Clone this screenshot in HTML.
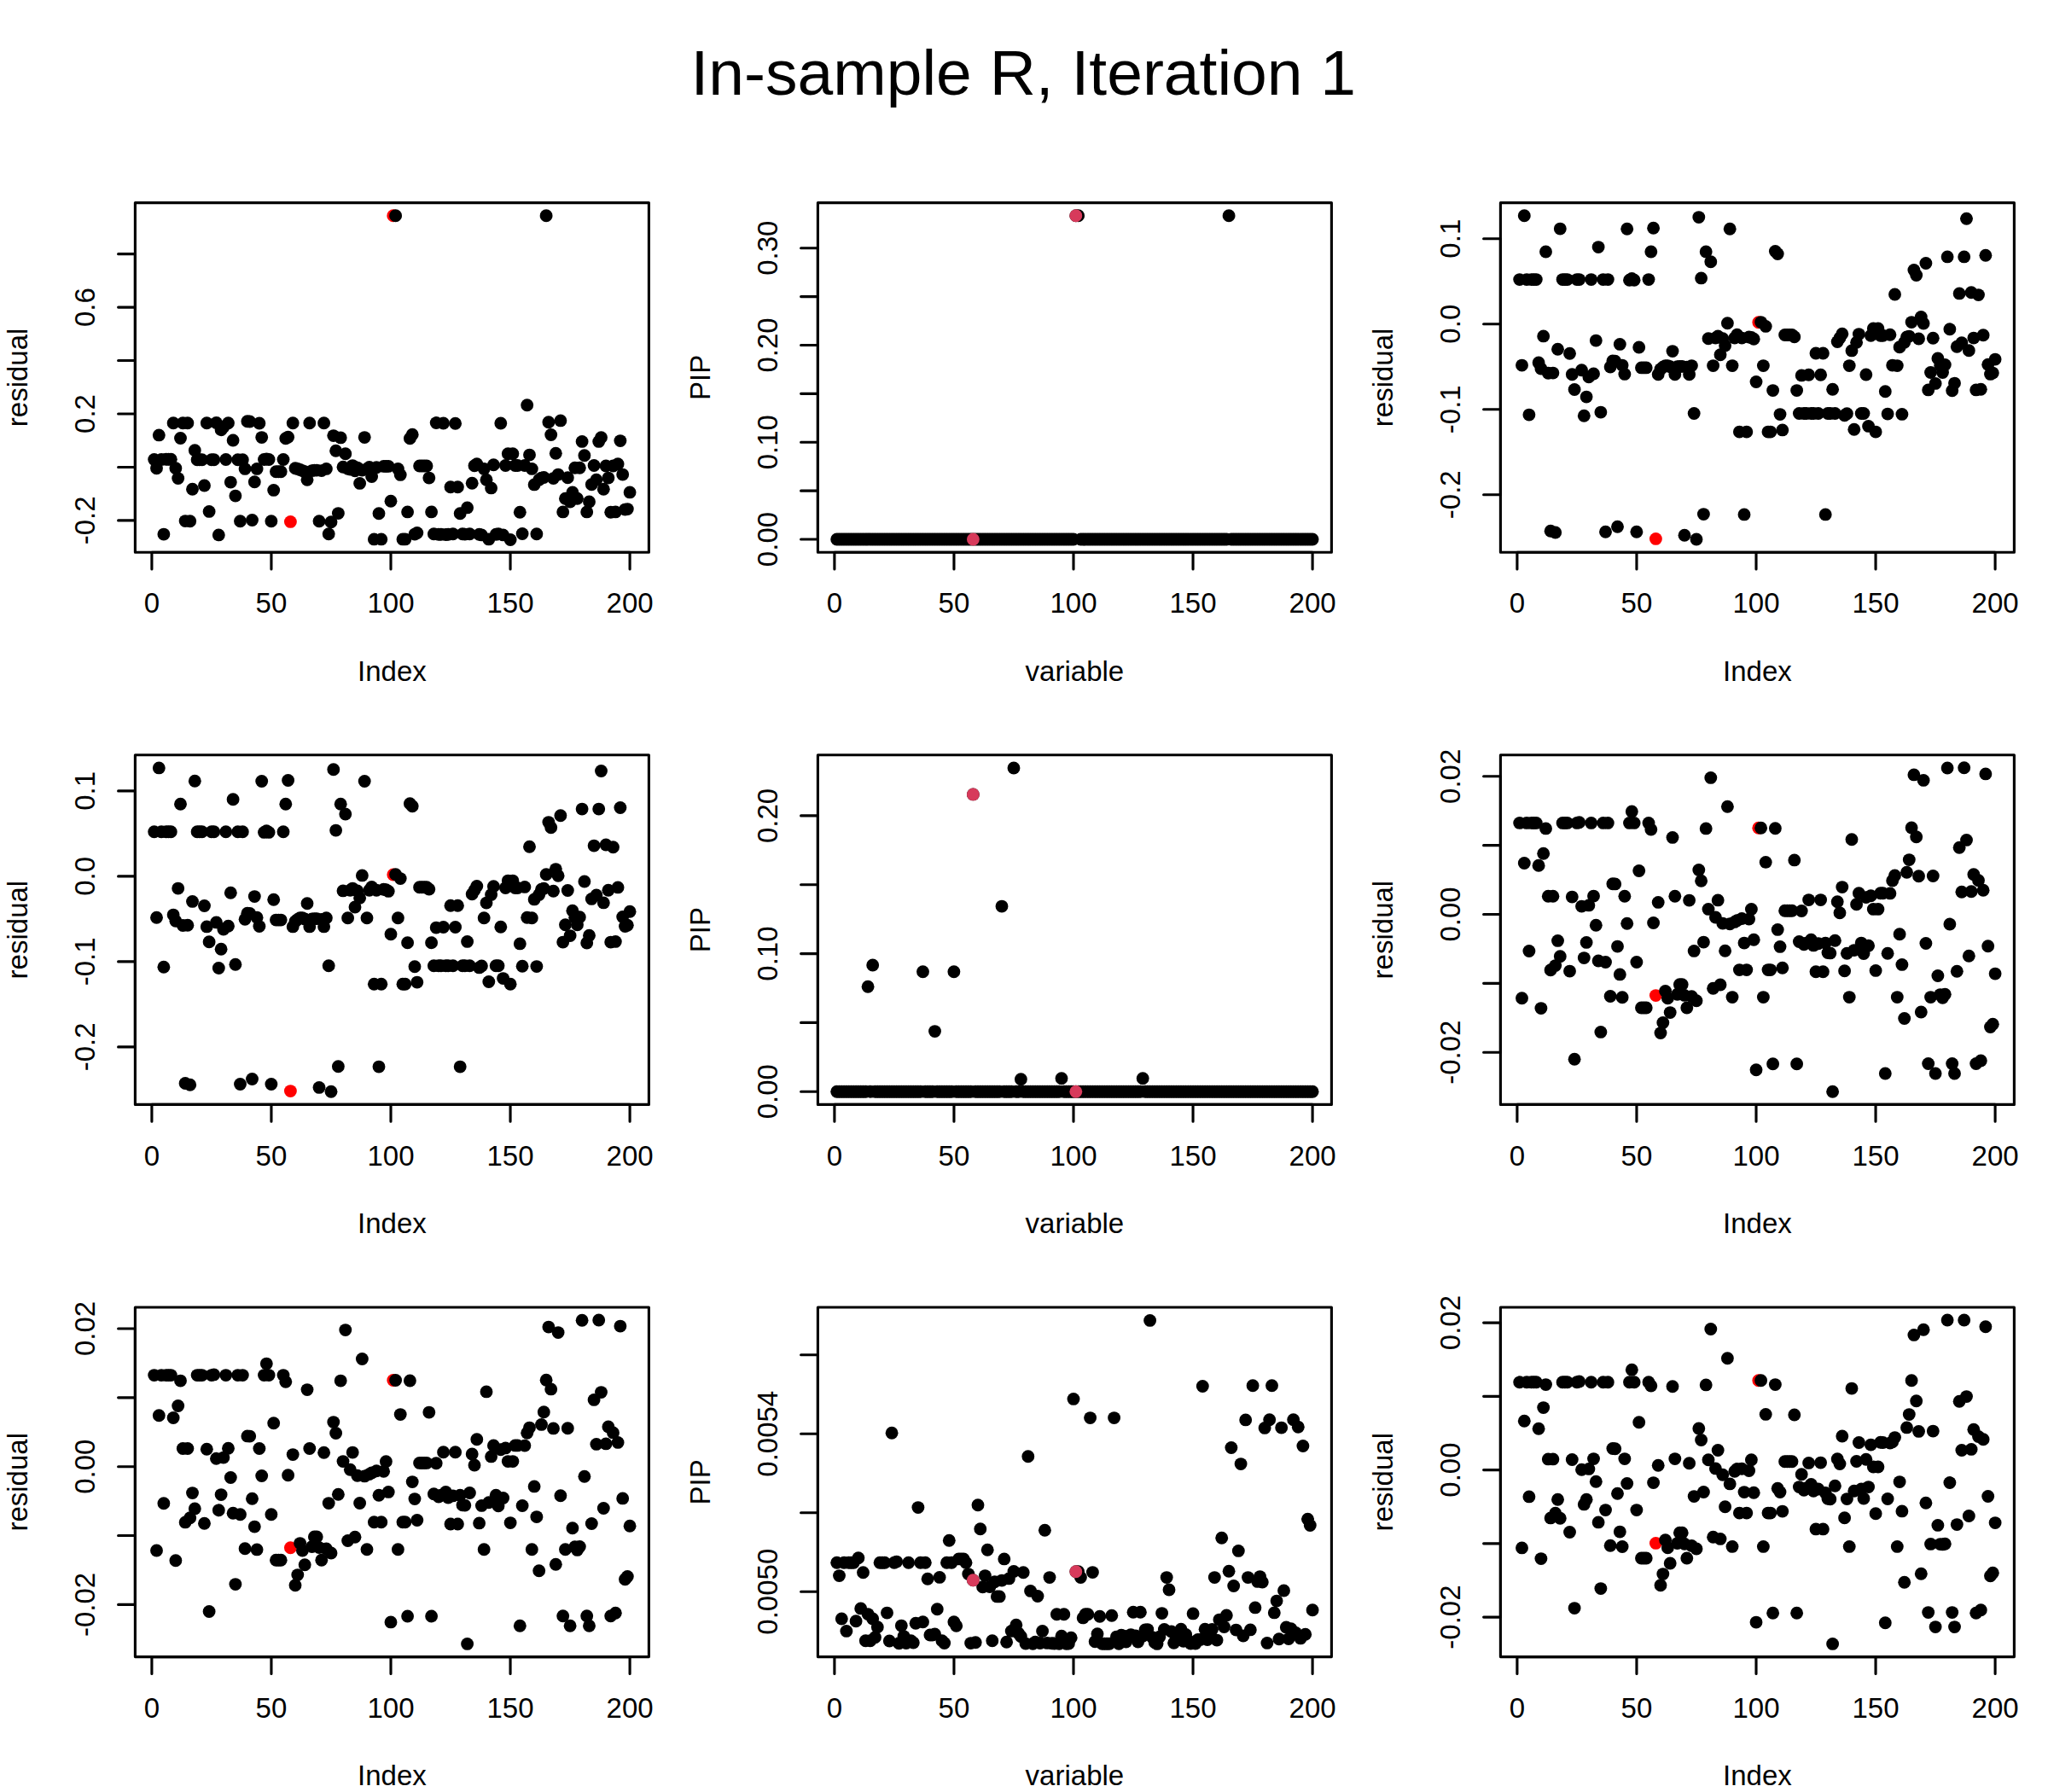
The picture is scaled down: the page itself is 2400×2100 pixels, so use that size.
<!DOCTYPE html>
<html><head><meta charset="utf-8"><title>In-sample R, Iteration 1</title>
<style>
html,body{margin:0;padding:0;background:#fff}
svg{display:block}
text{font-family:"Liberation Sans",sans-serif;fill:#000}
.a{font-size:33px}
.l{stroke:#000;stroke-width:3.125;stroke-linecap:round;stroke-linejoin:round;fill:none}
</style></head><body>
<svg width="2400" height="2100" viewBox="0 0 2400 2100">
<rect width="2400" height="2100" fill="#fff"/>
<text x="1199.3" y="111.2" font-size="75.0" text-anchor="middle">In-sample R, Iteration 1</text>
<g>
<g class="k"><circle r="7.43" cx="180.7" cy="538.5"/><circle r="7.43" cx="183.5" cy="548.8"/><circle r="7.43" cx="186.3" cy="509.9"/><circle r="7.43" cx="189.1" cy="538.5"/><circle r="7.43" cx="191.9" cy="626.1"/><circle r="7.43" cx="194.7" cy="538.2"/><circle r="7.43" cx="197.5" cy="538.2"/><circle r="7.43" cx="200.3" cy="538.2"/><circle r="7.43" cx="203.1" cy="495.8"/><circle r="7.43" cx="205.9" cy="548.8"/><circle r="7.43" cx="208.7" cy="560.6"/><circle r="7.43" cx="211.5" cy="513.5"/><circle r="7.43" cx="214.3" cy="495.8"/><circle r="7.43" cx="217.1" cy="610.6"/><circle r="7.43" cx="219.9" cy="495.8"/><circle r="7.43" cx="222.7" cy="610.8"/><circle r="7.43" cx="225.5" cy="573.2"/><circle r="7.43" cx="228.3" cy="527.7"/><circle r="7.43" cx="231.1" cy="538.7"/><circle r="7.43" cx="233.9" cy="538.7"/><circle r="7.43" cx="236.7" cy="538.7"/><circle r="7.43" cx="239.5" cy="569"/><circle r="7.43" cx="242.3" cy="495.8"/><circle r="7.43" cx="245.1" cy="599.4"/><circle r="7.43" cx="247.9" cy="538.7"/><circle r="7.43" cx="250.7" cy="538.7"/><circle r="7.43" cx="253.5" cy="495.5"/><circle r="7.43" cx="256.3" cy="626.9"/><circle r="7.43" cx="259.1" cy="503.7"/><circle r="7.43" cx="261.9" cy="500.4"/><circle r="7.43" cx="264.7" cy="538.5"/><circle r="7.43" cx="267.5" cy="495.8"/><circle r="7.43" cx="270.3" cy="565.1"/><circle r="7.43" cx="273.1" cy="516"/><circle r="7.43" cx="275.9" cy="581.1"/><circle r="7.43" cx="278.7" cy="538.7"/><circle r="7.43" cx="281.5" cy="610.8"/><circle r="7.43" cx="284.3" cy="538.7"/><circle r="7.43" cx="287.1" cy="549.4"/><circle r="7.43" cx="289.9" cy="493.8"/><circle r="7.43" cx="292.7" cy="494"/><circle r="7.43" cx="295.5" cy="609.5"/><circle r="7.43" cx="298.3" cy="564.8"/><circle r="7.43" cx="301.1" cy="549.4"/><circle r="7.43" cx="303.9" cy="496"/><circle r="7.43" cx="306.7" cy="512.6"/><circle r="7.43" cx="309.5" cy="538.5"/><circle r="7.43" cx="312.3" cy="537.9"/><circle r="7.43" cx="315.1" cy="538.5"/><circle r="7.43" cx="317.9" cy="610.8"/><circle r="7.43" cx="320.7" cy="574.4"/><circle r="7.43" cx="323.5" cy="552.8"/><circle r="7.43" cx="326.4" cy="552.8"/><circle r="7.43" cx="329.2" cy="552.8"/><circle r="7.43" cx="332" cy="538.5"/><circle r="7.43" cx="334.8" cy="513.7"/><circle r="7.43" cx="337.6" cy="512.3"/><circle r="7.43" cx="340.4" cy="611.4" fill="#ff0000"/><circle r="7.43" cx="343.2" cy="495.8"/><circle r="7.43" cx="346" cy="548.8"/><circle r="7.43" cx="348.8" cy="549.4"/><circle r="7.43" cx="351.6" cy="550.5"/><circle r="7.43" cx="354.4" cy="551.6"/><circle r="7.43" cx="357.2" cy="552.8"/><circle r="7.43" cx="360" cy="562.3"/><circle r="7.43" cx="362.8" cy="495.8"/><circle r="7.43" cx="365.6" cy="551.6"/><circle r="7.43" cx="368.4" cy="551.1"/><circle r="7.43" cx="371.2" cy="551.1"/><circle r="7.43" cx="374" cy="610.8"/><circle r="7.43" cx="376.8" cy="551.6"/><circle r="7.43" cx="379.6" cy="495.8"/><circle r="7.43" cx="382.4" cy="549.4"/><circle r="7.43" cx="385.2" cy="625.8"/><circle r="7.43" cx="388" cy="611.7"/><circle r="7.43" cx="390.8" cy="510.6"/><circle r="7.43" cx="393.6" cy="528.3"/><circle r="7.43" cx="396.4" cy="601.6"/><circle r="7.43" cx="399.2" cy="512.9"/><circle r="7.43" cx="402" cy="547.2"/><circle r="7.43" cx="404.8" cy="531.8"/><circle r="7.43" cx="407.6" cy="549.2"/><circle r="7.43" cx="410.4" cy="550.1"/><circle r="7.43" cx="413.2" cy="545.6"/><circle r="7.43" cx="416" cy="551.8"/><circle r="7.43" cx="418.8" cy="548.1"/><circle r="7.43" cx="421.6" cy="566.4"/><circle r="7.43" cx="424.4" cy="551"/><circle r="7.43" cx="427.2" cy="512.6"/><circle r="7.43" cx="430" cy="549.8"/><circle r="7.43" cx="432.8" cy="547.5"/><circle r="7.43" cx="435.6" cy="558.5"/><circle r="7.43" cx="438.4" cy="631.9"/><circle r="7.43" cx="441.2" cy="547.8"/><circle r="7.43" cx="444" cy="601.8"/><circle r="7.43" cx="446.8" cy="631.9"/><circle r="7.43" cx="449.6" cy="546.4"/><circle r="7.43" cx="452.4" cy="546.4"/><circle r="7.43" cx="455.2" cy="546.4"/><circle r="7.43" cx="458" cy="587.2"/><circle r="7.43" cx="460.8" cy="252.8" fill="#ff0000"/><circle r="7.43" cx="463.6" cy="252.8"/><circle r="7.43" cx="466.4" cy="549.5"/><circle r="7.43" cx="469.2" cy="556.4"/><circle r="7.43" cx="472" cy="631.9"/><circle r="7.43" cx="474.8" cy="631.9"/><circle r="7.43" cx="477.6" cy="599.9"/><circle r="7.43" cx="480.4" cy="513.7"/><circle r="7.43" cx="483.2" cy="509.3"/><circle r="7.43" cx="486" cy="626.1"/><circle r="7.43" cx="488.8" cy="624.4"/><circle r="7.43" cx="491.6" cy="546"/><circle r="7.43" cx="494.4" cy="546"/><circle r="7.43" cx="497.2" cy="546"/><circle r="7.43" cx="500" cy="546"/><circle r="7.43" cx="502.8" cy="560.1"/><circle r="7.43" cx="505.6" cy="599.9"/><circle r="7.43" cx="508.4" cy="625.8"/><circle r="7.43" cx="511.2" cy="495.5"/><circle r="7.43" cx="514" cy="626.3"/><circle r="7.43" cx="516.8" cy="626.3"/><circle r="7.43" cx="519.6" cy="496"/><circle r="7.43" cx="522.4" cy="626.5"/><circle r="7.43" cx="525.2" cy="626.3"/><circle r="7.43" cx="528" cy="570.7"/><circle r="7.43" cx="530.8" cy="625.8"/><circle r="7.43" cx="533.6" cy="496.3"/><circle r="7.43" cx="536.4" cy="570.7"/><circle r="7.43" cx="539.2" cy="601.8"/><circle r="7.43" cx="542" cy="625.8"/><circle r="7.43" cx="544.8" cy="626.1"/><circle r="7.43" cx="547.6" cy="594.9"/><circle r="7.43" cx="550.4" cy="625.8"/><circle r="7.43" cx="553.2" cy="566.2"/><circle r="7.43" cx="556" cy="545.7"/><circle r="7.43" cx="558.8" cy="543.8"/><circle r="7.43" cx="561.6" cy="626.3"/><circle r="7.43" cx="564.4" cy="626.9"/><circle r="7.43" cx="567.2" cy="549.4"/><circle r="7.43" cx="570" cy="562.3"/><circle r="7.43" cx="572.8" cy="631.9"/><circle r="7.43" cx="575.6" cy="571.9"/><circle r="7.43" cx="578.4" cy="544.7"/><circle r="7.43" cx="581.2" cy="626.3"/><circle r="7.43" cx="584" cy="625.8"/><circle r="7.43" cx="586.8" cy="496"/><circle r="7.43" cx="589.6" cy="626.9"/><circle r="7.43" cx="592.4" cy="545.5"/><circle r="7.43" cx="595.3" cy="531.8"/><circle r="7.43" cx="598.1" cy="632.5"/><circle r="7.43" cx="600.9" cy="531.8"/><circle r="7.43" cx="603.7" cy="545.5"/><circle r="7.43" cx="606.5" cy="545.5"/><circle r="7.43" cx="609.3" cy="600.2"/><circle r="7.43" cx="612.1" cy="625.5"/><circle r="7.43" cx="614.9" cy="545.5"/><circle r="7.43" cx="617.7" cy="474.7"/><circle r="7.43" cx="620.5" cy="533.1"/><circle r="7.43" cx="623.3" cy="549.4"/><circle r="7.43" cx="626.1" cy="567.9"/><circle r="7.43" cx="628.9" cy="625.8"/><circle r="7.43" cx="631.7" cy="562.3"/><circle r="7.43" cx="634.5" cy="560.1"/><circle r="7.43" cx="637.3" cy="559.5"/><circle r="7.43" cx="640.1" cy="252.8"/><circle r="7.43" cx="642.9" cy="494.7"/><circle r="7.43" cx="645.7" cy="509.5"/><circle r="7.43" cx="648.5" cy="560.6"/><circle r="7.43" cx="651.3" cy="531.2"/><circle r="7.43" cx="654.1" cy="556.1"/><circle r="7.43" cx="656.9" cy="492.9"/><circle r="7.43" cx="659.7" cy="599.9"/><circle r="7.43" cx="662.5" cy="584.2"/><circle r="7.43" cx="665.3" cy="559.8"/><circle r="7.43" cx="668.1" cy="588.1"/><circle r="7.43" cx="670.9" cy="576.9"/><circle r="7.43" cx="673.7" cy="548.3"/><circle r="7.43" cx="676.5" cy="584.2"/><circle r="7.43" cx="679.3" cy="548.3"/><circle r="7.43" cx="682.1" cy="517.4"/><circle r="7.43" cx="684.9" cy="533.7"/><circle r="7.43" cx="687.7" cy="599.9"/><circle r="7.43" cx="690.5" cy="587.9"/><circle r="7.43" cx="693.3" cy="567.7"/><circle r="7.43" cx="696.1" cy="545.5"/><circle r="7.43" cx="698.9" cy="562.3"/><circle r="7.43" cx="701.7" cy="517.4"/><circle r="7.43" cx="704.5" cy="512.7"/><circle r="7.43" cx="707.3" cy="573.3"/><circle r="7.43" cx="710.1" cy="546"/><circle r="7.43" cx="712.9" cy="560.1"/><circle r="7.43" cx="715.7" cy="600.2"/><circle r="7.43" cx="718.5" cy="546"/><circle r="7.43" cx="721.3" cy="599.9"/><circle r="7.43" cx="724.1" cy="543.8"/><circle r="7.43" cx="726.9" cy="516.6"/><circle r="7.43" cx="729.7" cy="556.1"/><circle r="7.43" cx="732.5" cy="597.1"/><circle r="7.43" cx="735.3" cy="596.6"/><circle r="7.43" cx="738.1" cy="576.9"/></g>
<rect class="l" x="158.40" y="237.60" width="602.00" height="409.60"/>
<path class="l" d="M177.90 647.20H738.10M177.90 647.20v19.80M317.95 647.20v19.80M458.00 647.20v19.80M598.05 647.20v19.80M738.10 647.20v19.80"/>
<text class="a" x="177.90" y="718.48" text-anchor="middle">0</text>
<text class="a" x="317.95" y="718.48" text-anchor="middle">50</text>
<text class="a" x="458.00" y="718.48" text-anchor="middle">100</text>
<text class="a" x="598.05" y="718.48" text-anchor="middle">150</text>
<text class="a" x="738.10" y="718.48" text-anchor="middle">200</text>
<text class="a" x="459.40" y="797.68" text-anchor="middle">Index</text>
<path class="l" d="M158.40 609.90V297.65M158.40 609.90h-19.80M158.40 547.45h-19.80M158.40 485.00h-19.80M158.40 422.55h-19.80M158.40 360.10h-19.80M158.40 297.65h-19.80"/>
<text class="a" transform="translate(110.88 609.90) rotate(-90)" text-anchor="middle">-0.2</text>
<text class="a" transform="translate(110.88 485.00) rotate(-90)" text-anchor="middle">0.2</text>
<text class="a" transform="translate(110.88 360.10) rotate(-90)" text-anchor="middle">0.6</text>
<text class="a" transform="translate(31.68 442.40) rotate(-90)" text-anchor="middle">residual</text>
</g>
<g>
<g class="k"><circle r="7.43" cx="980.7" cy="632"/><circle r="7.43" cx="983.5" cy="632"/><circle r="7.43" cx="986.3" cy="632"/><circle r="7.43" cx="989.1" cy="632"/><circle r="7.43" cx="991.9" cy="632"/><circle r="7.43" cx="994.7" cy="632"/><circle r="7.43" cx="997.5" cy="632"/><circle r="7.43" cx="1000.3" cy="632"/><circle r="7.43" cx="1003.1" cy="632"/><circle r="7.43" cx="1005.9" cy="632"/><circle r="7.43" cx="1008.7" cy="632"/><circle r="7.43" cx="1011.5" cy="632"/><circle r="7.43" cx="1014.3" cy="632"/><circle r="7.43" cx="1017.1" cy="632"/><circle r="7.43" cx="1019.9" cy="632"/><circle r="7.43" cx="1022.7" cy="632"/><circle r="7.43" cx="1025.5" cy="632"/><circle r="7.43" cx="1028.3" cy="632"/><circle r="7.43" cx="1031.1" cy="632"/><circle r="7.43" cx="1033.9" cy="632"/><circle r="7.43" cx="1036.7" cy="632"/><circle r="7.43" cx="1039.5" cy="632"/><circle r="7.43" cx="1042.3" cy="632"/><circle r="7.43" cx="1045.1" cy="632"/><circle r="7.43" cx="1047.9" cy="632"/><circle r="7.43" cx="1050.7" cy="632"/><circle r="7.43" cx="1053.5" cy="632"/><circle r="7.43" cx="1056.3" cy="632"/><circle r="7.43" cx="1059.1" cy="632"/><circle r="7.43" cx="1061.9" cy="632"/><circle r="7.43" cx="1064.7" cy="632"/><circle r="7.43" cx="1067.5" cy="632"/><circle r="7.43" cx="1070.3" cy="632"/><circle r="7.43" cx="1073.1" cy="632"/><circle r="7.43" cx="1075.9" cy="632"/><circle r="7.43" cx="1078.7" cy="632"/><circle r="7.43" cx="1081.5" cy="632"/><circle r="7.43" cx="1084.3" cy="632"/><circle r="7.43" cx="1087.1" cy="632"/><circle r="7.43" cx="1089.9" cy="632"/><circle r="7.43" cx="1092.7" cy="632"/><circle r="7.43" cx="1095.5" cy="632"/><circle r="7.43" cx="1098.3" cy="632"/><circle r="7.43" cx="1101.1" cy="632"/><circle r="7.43" cx="1103.9" cy="632"/><circle r="7.43" cx="1106.7" cy="632"/><circle r="7.43" cx="1109.5" cy="632"/><circle r="7.43" cx="1112.3" cy="632"/><circle r="7.43" cx="1115.1" cy="632"/><circle r="7.43" cx="1117.9" cy="632"/><circle r="7.43" cx="1120.7" cy="632"/><circle r="7.43" cx="1123.5" cy="632"/><circle r="7.43" cx="1126.4" cy="632"/><circle r="7.43" cx="1129.2" cy="632"/><circle r="7.43" cx="1132" cy="632"/><circle r="7.43" cx="1134.8" cy="632"/><circle r="7.43" cx="1137.6" cy="632"/><circle r="7.43" cx="1140.4" cy="632"/><circle r="7.43" cx="1143.2" cy="632"/><circle r="7.43" cx="1146" cy="632"/><circle r="7.43" cx="1148.8" cy="632"/><circle r="7.43" cx="1151.6" cy="632"/><circle r="7.43" cx="1154.4" cy="632"/><circle r="7.43" cx="1157.2" cy="632"/><circle r="7.43" cx="1160" cy="632"/><circle r="7.43" cx="1162.8" cy="632"/><circle r="7.43" cx="1165.6" cy="632"/><circle r="7.43" cx="1168.4" cy="632"/><circle r="7.43" cx="1171.2" cy="632"/><circle r="7.43" cx="1174" cy="632"/><circle r="7.43" cx="1176.8" cy="632"/><circle r="7.43" cx="1179.6" cy="632"/><circle r="7.43" cx="1182.4" cy="632"/><circle r="7.43" cx="1185.2" cy="632"/><circle r="7.43" cx="1188" cy="632"/><circle r="7.43" cx="1190.8" cy="632"/><circle r="7.43" cx="1193.6" cy="632"/><circle r="7.43" cx="1196.4" cy="632"/><circle r="7.43" cx="1199.2" cy="632"/><circle r="7.43" cx="1202" cy="632"/><circle r="7.43" cx="1204.8" cy="632"/><circle r="7.43" cx="1207.6" cy="632"/><circle r="7.43" cx="1210.4" cy="632"/><circle r="7.43" cx="1213.2" cy="632"/><circle r="7.43" cx="1216" cy="632"/><circle r="7.43" cx="1218.8" cy="632"/><circle r="7.43" cx="1221.6" cy="632"/><circle r="7.43" cx="1224.4" cy="632"/><circle r="7.43" cx="1227.2" cy="632"/><circle r="7.43" cx="1230" cy="632"/><circle r="7.43" cx="1232.8" cy="632"/><circle r="7.43" cx="1235.6" cy="632"/><circle r="7.43" cx="1238.4" cy="632"/><circle r="7.43" cx="1241.2" cy="632"/><circle r="7.43" cx="1244" cy="632"/><circle r="7.43" cx="1246.8" cy="632"/><circle r="7.43" cx="1249.6" cy="632"/><circle r="7.43" cx="1252.4" cy="632"/><circle r="7.43" cx="1255.2" cy="632"/><circle r="7.43" cx="1258" cy="632"/><circle r="7.43" cx="1260.8" cy="252.8"/><circle r="7.43" cx="1263.6" cy="252.8"/><circle r="7.43" cx="1266.4" cy="632"/><circle r="7.43" cx="1269.2" cy="632"/><circle r="7.43" cx="1272" cy="632"/><circle r="7.43" cx="1274.8" cy="632"/><circle r="7.43" cx="1277.6" cy="632"/><circle r="7.43" cx="1280.4" cy="632"/><circle r="7.43" cx="1283.2" cy="632"/><circle r="7.43" cx="1286" cy="632"/><circle r="7.43" cx="1288.8" cy="632"/><circle r="7.43" cx="1291.6" cy="632"/><circle r="7.43" cx="1294.4" cy="632"/><circle r="7.43" cx="1297.2" cy="632"/><circle r="7.43" cx="1300" cy="632"/><circle r="7.43" cx="1302.8" cy="632"/><circle r="7.43" cx="1305.6" cy="632"/><circle r="7.43" cx="1308.4" cy="632"/><circle r="7.43" cx="1311.2" cy="632"/><circle r="7.43" cx="1314" cy="632"/><circle r="7.43" cx="1316.8" cy="632"/><circle r="7.43" cx="1319.6" cy="632"/><circle r="7.43" cx="1322.4" cy="632"/><circle r="7.43" cx="1325.2" cy="632"/><circle r="7.43" cx="1328" cy="632"/><circle r="7.43" cx="1330.8" cy="632"/><circle r="7.43" cx="1333.6" cy="632"/><circle r="7.43" cx="1336.4" cy="632"/><circle r="7.43" cx="1339.2" cy="632"/><circle r="7.43" cx="1342" cy="632"/><circle r="7.43" cx="1344.8" cy="632"/><circle r="7.43" cx="1347.6" cy="632"/><circle r="7.43" cx="1350.4" cy="632"/><circle r="7.43" cx="1353.2" cy="632"/><circle r="7.43" cx="1356" cy="632"/><circle r="7.43" cx="1358.8" cy="632"/><circle r="7.43" cx="1361.6" cy="632"/><circle r="7.43" cx="1364.4" cy="632"/><circle r="7.43" cx="1367.2" cy="632"/><circle r="7.43" cx="1370" cy="632"/><circle r="7.43" cx="1372.8" cy="632"/><circle r="7.43" cx="1375.6" cy="632"/><circle r="7.43" cx="1378.4" cy="632"/><circle r="7.43" cx="1381.2" cy="632"/><circle r="7.43" cx="1384" cy="632"/><circle r="7.43" cx="1386.8" cy="632"/><circle r="7.43" cx="1389.6" cy="632"/><circle r="7.43" cx="1392.4" cy="632"/><circle r="7.43" cx="1395.3" cy="632"/><circle r="7.43" cx="1398.1" cy="632"/><circle r="7.43" cx="1400.9" cy="632"/><circle r="7.43" cx="1403.7" cy="632"/><circle r="7.43" cx="1406.5" cy="632"/><circle r="7.43" cx="1409.3" cy="632"/><circle r="7.43" cx="1412.1" cy="632"/><circle r="7.43" cx="1414.9" cy="632"/><circle r="7.43" cx="1417.7" cy="632"/><circle r="7.43" cx="1420.5" cy="632"/><circle r="7.43" cx="1423.3" cy="632"/><circle r="7.43" cx="1426.1" cy="632"/><circle r="7.43" cx="1428.9" cy="632"/><circle r="7.43" cx="1431.7" cy="632"/><circle r="7.43" cx="1434.5" cy="632"/><circle r="7.43" cx="1437.3" cy="632"/><circle r="7.43" cx="1440.1" cy="252.8"/><circle r="7.43" cx="1442.9" cy="632"/><circle r="7.43" cx="1445.7" cy="632"/><circle r="7.43" cx="1448.5" cy="632"/><circle r="7.43" cx="1451.3" cy="632"/><circle r="7.43" cx="1454.1" cy="632"/><circle r="7.43" cx="1456.9" cy="632"/><circle r="7.43" cx="1459.7" cy="632"/><circle r="7.43" cx="1462.5" cy="632"/><circle r="7.43" cx="1465.3" cy="632"/><circle r="7.43" cx="1468.1" cy="632"/><circle r="7.43" cx="1470.9" cy="632"/><circle r="7.43" cx="1473.7" cy="632"/><circle r="7.43" cx="1476.5" cy="632"/><circle r="7.43" cx="1479.3" cy="632"/><circle r="7.43" cx="1482.1" cy="632"/><circle r="7.43" cx="1484.9" cy="632"/><circle r="7.43" cx="1487.7" cy="632"/><circle r="7.43" cx="1490.5" cy="632"/><circle r="7.43" cx="1493.3" cy="632"/><circle r="7.43" cx="1496.1" cy="632"/><circle r="7.43" cx="1498.9" cy="632"/><circle r="7.43" cx="1501.7" cy="632"/><circle r="7.43" cx="1504.5" cy="632"/><circle r="7.43" cx="1507.3" cy="632"/><circle r="7.43" cx="1510.1" cy="632"/><circle r="7.43" cx="1512.9" cy="632"/><circle r="7.43" cx="1515.7" cy="632"/><circle r="7.43" cx="1518.5" cy="632"/><circle r="7.43" cx="1521.3" cy="632"/><circle r="7.43" cx="1524.1" cy="632"/><circle r="7.43" cx="1526.9" cy="632"/><circle r="7.43" cx="1529.7" cy="632"/><circle r="7.43" cx="1532.5" cy="632"/><circle r="7.43" cx="1535.3" cy="632"/><circle r="7.43" cx="1538.1" cy="632"/><circle r="7.43" cx="1140.4" cy="632" fill="#d73a5b"/><circle r="7.43" cx="1260.8" cy="252.8" fill="#d73a5b"/></g>
<rect class="l" x="958.40" y="237.60" width="602.00" height="409.60"/>
<path class="l" d="M977.90 647.20H1538.10M977.90 647.20v19.80M1117.95 647.20v19.80M1258.00 647.20v19.80M1398.05 647.20v19.80M1538.10 647.20v19.80"/>
<text class="a" x="977.90" y="718.48" text-anchor="middle">0</text>
<text class="a" x="1117.95" y="718.48" text-anchor="middle">50</text>
<text class="a" x="1258.00" y="718.48" text-anchor="middle">100</text>
<text class="a" x="1398.05" y="718.48" text-anchor="middle">150</text>
<text class="a" x="1538.10" y="718.48" text-anchor="middle">200</text>
<text class="a" x="1259.40" y="797.68" text-anchor="middle">variable</text>
<path class="l" d="M958.40 632.03V290.69M958.40 632.03h-19.80M958.40 575.14h-19.80M958.40 518.25h-19.80M958.40 461.36h-19.80M958.40 404.47h-19.80M958.40 347.58h-19.80M958.40 290.69h-19.80"/>
<text class="a" transform="translate(910.88 632.03) rotate(-90)" text-anchor="middle">0.00</text>
<text class="a" transform="translate(910.88 518.25) rotate(-90)" text-anchor="middle">0.10</text>
<text class="a" transform="translate(910.88 404.47) rotate(-90)" text-anchor="middle">0.20</text>
<text class="a" transform="translate(910.88 290.69) rotate(-90)" text-anchor="middle">0.30</text>
<text class="a" transform="translate(831.68 442.40) rotate(-90)" text-anchor="middle">PIP</text>
</g>
<g>
<g class="k"><circle r="7.43" cx="1780.7" cy="327.6"/><circle r="7.43" cx="1783.5" cy="428.1"/><circle r="7.43" cx="1786.3" cy="252.7"/><circle r="7.43" cx="1789.1" cy="327.6"/><circle r="7.43" cx="1791.9" cy="486.1"/><circle r="7.43" cx="1794.7" cy="327.6"/><circle r="7.43" cx="1797.5" cy="327.6"/><circle r="7.43" cx="1800.3" cy="327.6"/><circle r="7.43" cx="1803.1" cy="424.9"/><circle r="7.43" cx="1805.9" cy="432"/><circle r="7.43" cx="1808.7" cy="393.9"/><circle r="7.43" cx="1811.5" cy="295"/><circle r="7.43" cx="1814.3" cy="437.3"/><circle r="7.43" cx="1817.1" cy="622.3"/><circle r="7.43" cx="1819.9" cy="437.1"/><circle r="7.43" cx="1822.7" cy="624"/><circle r="7.43" cx="1825.5" cy="409.2"/><circle r="7.43" cx="1828.3" cy="268.1"/><circle r="7.43" cx="1831.1" cy="327.6"/><circle r="7.43" cx="1833.9" cy="327.6"/><circle r="7.43" cx="1836.7" cy="327.6"/><circle r="7.43" cx="1839.5" cy="414.3"/><circle r="7.43" cx="1842.3" cy="438.7"/><circle r="7.43" cx="1845.1" cy="456.5"/><circle r="7.43" cx="1847.9" cy="327.6"/><circle r="7.43" cx="1850.7" cy="327.6"/><circle r="7.43" cx="1853.5" cy="433.7"/><circle r="7.43" cx="1856.3" cy="487.3"/><circle r="7.43" cx="1859.1" cy="465.1"/><circle r="7.43" cx="1861.9" cy="441.8"/><circle r="7.43" cx="1864.7" cy="327.6"/><circle r="7.43" cx="1867.5" cy="438"/><circle r="7.43" cx="1870.3" cy="399.1"/><circle r="7.43" cx="1873.1" cy="289.6"/><circle r="7.43" cx="1875.9" cy="483.1"/><circle r="7.43" cx="1878.7" cy="327.6"/><circle r="7.43" cx="1881.5" cy="623.3"/><circle r="7.43" cx="1884.3" cy="327.6"/><circle r="7.43" cx="1887.1" cy="430.1"/><circle r="7.43" cx="1889.9" cy="423"/><circle r="7.43" cx="1892.7" cy="423.2"/><circle r="7.43" cx="1895.5" cy="617.3"/><circle r="7.43" cx="1898.3" cy="403.4"/><circle r="7.43" cx="1901.1" cy="428.1"/><circle r="7.43" cx="1903.9" cy="438.4"/><circle r="7.43" cx="1906.7" cy="268.3"/><circle r="7.43" cx="1909.5" cy="328.2"/><circle r="7.43" cx="1912.3" cy="326.5"/><circle r="7.43" cx="1915.1" cy="328.2"/><circle r="7.43" cx="1917.9" cy="623.3"/><circle r="7.43" cx="1920.7" cy="407"/><circle r="7.43" cx="1923.5" cy="430.9"/><circle r="7.43" cx="1926.4" cy="430.9"/><circle r="7.43" cx="1929.2" cy="430.9"/><circle r="7.43" cx="1932" cy="327.6"/><circle r="7.43" cx="1934.8" cy="295"/><circle r="7.43" cx="1937.6" cy="267.3"/><circle r="7.43" cx="1940.4" cy="631.4" fill="#ff0000"/><circle r="7.43" cx="1943.2" cy="438.7"/><circle r="7.43" cx="1946" cy="432.6"/><circle r="7.43" cx="1948.8" cy="430.3"/><circle r="7.43" cx="1951.6" cy="428.6"/><circle r="7.43" cx="1954.4" cy="428.6"/><circle r="7.43" cx="1957.2" cy="429.8"/><circle r="7.43" cx="1960" cy="411.6"/><circle r="7.43" cx="1962.8" cy="438.7"/><circle r="7.43" cx="1965.6" cy="429.8"/><circle r="7.43" cx="1968.4" cy="429.4"/><circle r="7.43" cx="1971.2" cy="429.4"/><circle r="7.43" cx="1974" cy="627.2"/><circle r="7.43" cx="1976.8" cy="430.3"/><circle r="7.43" cx="1979.6" cy="438.7"/><circle r="7.43" cx="1982.4" cy="428.6"/><circle r="7.43" cx="1985.2" cy="484.5"/><circle r="7.43" cx="1988" cy="632"/><circle r="7.43" cx="1990.8" cy="254.6"/><circle r="7.43" cx="1993.6" cy="325.9"/><circle r="7.43" cx="1996.4" cy="602.6"/><circle r="7.43" cx="1999.2" cy="295"/><circle r="7.43" cx="2002" cy="396.7"/><circle r="7.43" cx="2004.8" cy="306.8"/><circle r="7.43" cx="2007.6" cy="428.6"/><circle r="7.43" cx="2010.4" cy="396.1"/><circle r="7.43" cx="2013.2" cy="393.9"/><circle r="7.43" cx="2016" cy="415.8"/><circle r="7.43" cx="2018.8" cy="396.7"/><circle r="7.43" cx="2021.6" cy="405.1"/><circle r="7.43" cx="2024.4" cy="378.7"/><circle r="7.43" cx="2027.2" cy="268.3"/><circle r="7.43" cx="2030" cy="428.6"/><circle r="7.43" cx="2032.8" cy="396.1"/><circle r="7.43" cx="2035.6" cy="392.2"/><circle r="7.43" cx="2038.4" cy="506.1"/><circle r="7.43" cx="2041.2" cy="396.1"/><circle r="7.43" cx="2044" cy="602.9"/><circle r="7.43" cx="2046.8" cy="506.1"/><circle r="7.43" cx="2049.6" cy="395"/><circle r="7.43" cx="2052.4" cy="395.5"/><circle r="7.43" cx="2055.2" cy="397.2"/><circle r="7.43" cx="2058" cy="447.5"/><circle r="7.43" cx="2060.8" cy="377.8" fill="#ff0000"/><circle r="7.43" cx="2063.6" cy="377.6"/><circle r="7.43" cx="2066.4" cy="428.6"/><circle r="7.43" cx="2069.2" cy="382.4"/><circle r="7.43" cx="2072" cy="506.1"/><circle r="7.43" cx="2074.8" cy="506.1"/><circle r="7.43" cx="2077.6" cy="457.6"/><circle r="7.43" cx="2080.4" cy="294.5"/><circle r="7.43" cx="2083.2" cy="297.5"/><circle r="7.43" cx="2086" cy="485.6"/><circle r="7.43" cx="2088.8" cy="503.9"/><circle r="7.43" cx="2091.6" cy="392.5"/><circle r="7.43" cx="2094.4" cy="392.5"/><circle r="7.43" cx="2097.2" cy="392.5"/><circle r="7.43" cx="2100" cy="392.5"/><circle r="7.43" cx="2102.8" cy="394.8"/><circle r="7.43" cx="2105.6" cy="457.6"/><circle r="7.43" cx="2108.4" cy="484.5"/><circle r="7.43" cx="2111.2" cy="439.9"/><circle r="7.43" cx="2114" cy="484.5"/><circle r="7.43" cx="2116.8" cy="484.5"/><circle r="7.43" cx="2119.6" cy="439.3"/><circle r="7.43" cx="2122.4" cy="484.5"/><circle r="7.43" cx="2125.2" cy="484.5"/><circle r="7.43" cx="2128" cy="414"/><circle r="7.43" cx="2130.8" cy="484.5"/><circle r="7.43" cx="2133.6" cy="439.3"/><circle r="7.43" cx="2136.4" cy="414"/><circle r="7.43" cx="2139.2" cy="602.9"/><circle r="7.43" cx="2142" cy="484.5"/><circle r="7.43" cx="2144.8" cy="484.5"/><circle r="7.43" cx="2147.6" cy="456.2"/><circle r="7.43" cx="2150.4" cy="484.5"/><circle r="7.43" cx="2153.2" cy="400.6"/><circle r="7.43" cx="2156" cy="396.1"/><circle r="7.43" cx="2158.8" cy="391.3"/><circle r="7.43" cx="2161.6" cy="486.7"/><circle r="7.43" cx="2164.4" cy="484.8"/><circle r="7.43" cx="2167.2" cy="428.6"/><circle r="7.43" cx="2170" cy="410.9"/><circle r="7.43" cx="2172.8" cy="503.3"/><circle r="7.43" cx="2175.6" cy="401.2"/><circle r="7.43" cx="2178.4" cy="391.6"/><circle r="7.43" cx="2181.2" cy="484.5"/><circle r="7.43" cx="2184" cy="484.5"/><circle r="7.43" cx="2186.8" cy="439"/><circle r="7.43" cx="2189.6" cy="499.4"/><circle r="7.43" cx="2192.4" cy="393.3"/><circle r="7.43" cx="2195.3" cy="384.9"/><circle r="7.43" cx="2198.1" cy="506.1"/><circle r="7.43" cx="2200.9" cy="384.9"/><circle r="7.43" cx="2203.7" cy="393.3"/><circle r="7.43" cx="2206.5" cy="393.3"/><circle r="7.43" cx="2209.3" cy="458.7"/><circle r="7.43" cx="2212.1" cy="485.1"/><circle r="7.43" cx="2214.9" cy="392.2"/><circle r="7.43" cx="2217.7" cy="428.1"/><circle r="7.43" cx="2220.5" cy="345"/><circle r="7.43" cx="2223.3" cy="428.6"/><circle r="7.43" cx="2226.1" cy="406.7"/><circle r="7.43" cx="2228.9" cy="485.4"/><circle r="7.43" cx="2231.7" cy="401.2"/><circle r="7.43" cx="2234.5" cy="395"/><circle r="7.43" cx="2237.3" cy="394.1"/><circle r="7.43" cx="2240.1" cy="377.6"/><circle r="7.43" cx="2242.9" cy="316.4"/><circle r="7.43" cx="2245.7" cy="322.5"/><circle r="7.43" cx="2248.5" cy="397"/><circle r="7.43" cx="2251.3" cy="371.4"/><circle r="7.43" cx="2254.1" cy="379"/><circle r="7.43" cx="2256.9" cy="308.5"/><circle r="7.43" cx="2259.7" cy="456.9"/><circle r="7.43" cx="2262.5" cy="436.5"/><circle r="7.43" cx="2265.3" cy="396.3"/><circle r="7.43" cx="2268.1" cy="449.4"/><circle r="7.43" cx="2270.9" cy="420"/><circle r="7.43" cx="2273.7" cy="428.1"/><circle r="7.43" cx="2276.5" cy="436.5"/><circle r="7.43" cx="2279.3" cy="427.5"/><circle r="7.43" cx="2282.1" cy="300.9"/><circle r="7.43" cx="2284.9" cy="385.8"/><circle r="7.43" cx="2287.7" cy="457.8"/><circle r="7.43" cx="2290.5" cy="449.1"/><circle r="7.43" cx="2293.3" cy="406.2"/><circle r="7.43" cx="2296.1" cy="343.9"/><circle r="7.43" cx="2298.9" cy="401.7"/><circle r="7.43" cx="2301.7" cy="300.9"/><circle r="7.43" cx="2304.5" cy="256.3"/><circle r="7.43" cx="2307.3" cy="410.7"/><circle r="7.43" cx="2310.1" cy="342.8"/><circle r="7.43" cx="2312.9" cy="396.1"/><circle r="7.43" cx="2315.7" cy="456.9"/><circle r="7.43" cx="2318.5" cy="345.6"/><circle r="7.43" cx="2321.3" cy="456.2"/><circle r="7.43" cx="2324.1" cy="392.7"/><circle r="7.43" cx="2326.9" cy="299.3"/><circle r="7.43" cx="2329.7" cy="427.3"/><circle r="7.43" cx="2332.5" cy="438.4"/><circle r="7.43" cx="2335.3" cy="437.1"/><circle r="7.43" cx="2338.1" cy="421.1"/></g>
<rect class="l" x="1758.40" y="237.60" width="602.00" height="409.60"/>
<path class="l" d="M1777.90 647.20H2338.10M1777.90 647.20v19.80M1917.95 647.20v19.80M2058.00 647.20v19.80M2198.05 647.20v19.80M2338.10 647.20v19.80"/>
<text class="a" x="1777.90" y="718.48" text-anchor="middle">0</text>
<text class="a" x="1917.95" y="718.48" text-anchor="middle">50</text>
<text class="a" x="2058.00" y="718.48" text-anchor="middle">100</text>
<text class="a" x="2198.05" y="718.48" text-anchor="middle">150</text>
<text class="a" x="2338.10" y="718.48" text-anchor="middle">200</text>
<text class="a" x="2059.40" y="797.68" text-anchor="middle">Index</text>
<path class="l" d="M1758.40 579.70V279.70M1758.40 579.70h-19.80M1758.40 479.70h-19.80M1758.40 379.70h-19.80M1758.40 279.70h-19.80"/>
<text class="a" transform="translate(1710.88 579.70) rotate(-90)" text-anchor="middle">-0.2</text>
<text class="a" transform="translate(1710.88 479.70) rotate(-90)" text-anchor="middle">-0.1</text>
<text class="a" transform="translate(1710.88 379.70) rotate(-90)" text-anchor="middle">0.0</text>
<text class="a" transform="translate(1710.88 279.70) rotate(-90)" text-anchor="middle">0.1</text>
<text class="a" transform="translate(1631.68 442.40) rotate(-90)" text-anchor="middle">residual</text>
</g>
<g>
<g class="k"><circle r="7.43" cx="180.7" cy="974.8"/><circle r="7.43" cx="183.5" cy="1075.3"/><circle r="7.43" cx="186.3" cy="899.9"/><circle r="7.43" cx="189.1" cy="974.8"/><circle r="7.43" cx="191.9" cy="1133.3"/><circle r="7.43" cx="194.7" cy="974.8"/><circle r="7.43" cx="197.5" cy="974.8"/><circle r="7.43" cx="200.3" cy="974.8"/><circle r="7.43" cx="203.1" cy="1072.1"/><circle r="7.43" cx="205.9" cy="1079.2"/><circle r="7.43" cx="208.7" cy="1041.1"/><circle r="7.43" cx="211.5" cy="942.2"/><circle r="7.43" cx="214.3" cy="1084.5"/><circle r="7.43" cx="217.1" cy="1269.5"/><circle r="7.43" cx="219.9" cy="1084.3"/><circle r="7.43" cx="222.7" cy="1271.2"/><circle r="7.43" cx="225.5" cy="1056.4"/><circle r="7.43" cx="228.3" cy="915.3"/><circle r="7.43" cx="231.1" cy="974.8"/><circle r="7.43" cx="233.9" cy="974.8"/><circle r="7.43" cx="236.7" cy="974.8"/><circle r="7.43" cx="239.5" cy="1061.5"/><circle r="7.43" cx="242.3" cy="1085.9"/><circle r="7.43" cx="245.1" cy="1103.7"/><circle r="7.43" cx="247.9" cy="974.8"/><circle r="7.43" cx="250.7" cy="974.8"/><circle r="7.43" cx="253.5" cy="1080.9"/><circle r="7.43" cx="256.3" cy="1134.5"/><circle r="7.43" cx="259.1" cy="1112.3"/><circle r="7.43" cx="261.9" cy="1089"/><circle r="7.43" cx="264.7" cy="974.8"/><circle r="7.43" cx="267.5" cy="1085.2"/><circle r="7.43" cx="270.3" cy="1046.3"/><circle r="7.43" cx="273.1" cy="936.8"/><circle r="7.43" cx="275.9" cy="1130.3"/><circle r="7.43" cx="278.7" cy="974.8"/><circle r="7.43" cx="281.5" cy="1270.5"/><circle r="7.43" cx="284.3" cy="974.8"/><circle r="7.43" cx="287.1" cy="1077.3"/><circle r="7.43" cx="289.9" cy="1070.2"/><circle r="7.43" cx="292.7" cy="1070.4"/><circle r="7.43" cx="295.5" cy="1264.5"/><circle r="7.43" cx="298.3" cy="1050.6"/><circle r="7.43" cx="301.1" cy="1075.3"/><circle r="7.43" cx="303.9" cy="1085.6"/><circle r="7.43" cx="306.7" cy="915.5"/><circle r="7.43" cx="309.5" cy="975.4"/><circle r="7.43" cx="312.3" cy="973.7"/><circle r="7.43" cx="315.1" cy="975.4"/><circle r="7.43" cx="317.9" cy="1270.5"/><circle r="7.43" cx="320.7" cy="1054.2"/><circle r="7.43" cx="323.5" cy="1078.1"/><circle r="7.43" cx="326.4" cy="1078.1"/><circle r="7.43" cx="329.2" cy="1078.1"/><circle r="7.43" cx="332" cy="974.8"/><circle r="7.43" cx="334.8" cy="942.2"/><circle r="7.43" cx="337.6" cy="914.5"/><circle r="7.43" cx="340.4" cy="1278.6" fill="#ff0000"/><circle r="7.43" cx="343.2" cy="1085.9"/><circle r="7.43" cx="346" cy="1079.8"/><circle r="7.43" cx="348.8" cy="1077.5"/><circle r="7.43" cx="351.6" cy="1075.8"/><circle r="7.43" cx="354.4" cy="1075.8"/><circle r="7.43" cx="357.2" cy="1077"/><circle r="7.43" cx="360" cy="1058.8"/><circle r="7.43" cx="362.8" cy="1085.9"/><circle r="7.43" cx="365.6" cy="1077"/><circle r="7.43" cx="368.4" cy="1076.6"/><circle r="7.43" cx="371.2" cy="1076.6"/><circle r="7.43" cx="374" cy="1274.4"/><circle r="7.43" cx="376.8" cy="1077.5"/><circle r="7.43" cx="379.6" cy="1085.9"/><circle r="7.43" cx="382.4" cy="1075.8"/><circle r="7.43" cx="385.2" cy="1131.7"/><circle r="7.43" cx="388" cy="1279.2"/><circle r="7.43" cx="390.8" cy="901.8"/><circle r="7.43" cx="393.6" cy="973.1"/><circle r="7.43" cx="396.4" cy="1249.8"/><circle r="7.43" cx="399.2" cy="942.2"/><circle r="7.43" cx="402" cy="1043.9"/><circle r="7.43" cx="404.8" cy="954"/><circle r="7.43" cx="407.6" cy="1075.8"/><circle r="7.43" cx="410.4" cy="1043.3"/><circle r="7.43" cx="413.2" cy="1041.1"/><circle r="7.43" cx="416" cy="1063"/><circle r="7.43" cx="418.8" cy="1043.9"/><circle r="7.43" cx="421.6" cy="1052.3"/><circle r="7.43" cx="424.4" cy="1025.9"/><circle r="7.43" cx="427.2" cy="915.5"/><circle r="7.43" cx="430" cy="1075.8"/><circle r="7.43" cx="432.8" cy="1043.3"/><circle r="7.43" cx="435.6" cy="1039.4"/><circle r="7.43" cx="438.4" cy="1153.3"/><circle r="7.43" cx="441.2" cy="1043.3"/><circle r="7.43" cx="444" cy="1250.1"/><circle r="7.43" cx="446.8" cy="1153.3"/><circle r="7.43" cx="449.6" cy="1042.2"/><circle r="7.43" cx="452.4" cy="1042.7"/><circle r="7.43" cx="455.2" cy="1044.4"/><circle r="7.43" cx="458" cy="1094.7"/><circle r="7.43" cx="460.8" cy="1025" fill="#ff0000"/><circle r="7.43" cx="463.6" cy="1024.8"/><circle r="7.43" cx="466.4" cy="1075.8"/><circle r="7.43" cx="469.2" cy="1029.6"/><circle r="7.43" cx="472" cy="1153.3"/><circle r="7.43" cx="474.8" cy="1153.3"/><circle r="7.43" cx="477.6" cy="1104.8"/><circle r="7.43" cx="480.4" cy="941.7"/><circle r="7.43" cx="483.2" cy="944.7"/><circle r="7.43" cx="486" cy="1132.8"/><circle r="7.43" cx="488.8" cy="1151.1"/><circle r="7.43" cx="491.6" cy="1039.7"/><circle r="7.43" cx="494.4" cy="1039.7"/><circle r="7.43" cx="497.2" cy="1039.7"/><circle r="7.43" cx="500" cy="1039.7"/><circle r="7.43" cx="502.8" cy="1042"/><circle r="7.43" cx="505.6" cy="1104.8"/><circle r="7.43" cx="508.4" cy="1131.7"/><circle r="7.43" cx="511.2" cy="1087.1"/><circle r="7.43" cx="514" cy="1131.7"/><circle r="7.43" cx="516.8" cy="1131.7"/><circle r="7.43" cx="519.6" cy="1086.5"/><circle r="7.43" cx="522.4" cy="1131.7"/><circle r="7.43" cx="525.2" cy="1131.7"/><circle r="7.43" cx="528" cy="1061.2"/><circle r="7.43" cx="530.8" cy="1131.7"/><circle r="7.43" cx="533.6" cy="1086.5"/><circle r="7.43" cx="536.4" cy="1061.2"/><circle r="7.43" cx="539.2" cy="1250.1"/><circle r="7.43" cx="542" cy="1131.7"/><circle r="7.43" cx="544.8" cy="1131.7"/><circle r="7.43" cx="547.6" cy="1103.4"/><circle r="7.43" cx="550.4" cy="1131.7"/><circle r="7.43" cx="553.2" cy="1047.8"/><circle r="7.43" cx="556" cy="1043.3"/><circle r="7.43" cx="558.8" cy="1038.5"/><circle r="7.43" cx="561.6" cy="1133.9"/><circle r="7.43" cx="564.4" cy="1132"/><circle r="7.43" cx="567.2" cy="1075.8"/><circle r="7.43" cx="570" cy="1058.1"/><circle r="7.43" cx="572.8" cy="1150.5"/><circle r="7.43" cx="575.6" cy="1048.4"/><circle r="7.43" cx="578.4" cy="1038.8"/><circle r="7.43" cx="581.2" cy="1131.7"/><circle r="7.43" cx="584" cy="1131.7"/><circle r="7.43" cx="586.8" cy="1086.2"/><circle r="7.43" cx="589.6" cy="1146.6"/><circle r="7.43" cx="592.4" cy="1040.5"/><circle r="7.43" cx="595.3" cy="1032.1"/><circle r="7.43" cx="598.1" cy="1153.3"/><circle r="7.43" cx="600.9" cy="1032.1"/><circle r="7.43" cx="603.7" cy="1040.5"/><circle r="7.43" cx="606.5" cy="1040.5"/><circle r="7.43" cx="609.3" cy="1105.9"/><circle r="7.43" cx="612.1" cy="1132.3"/><circle r="7.43" cx="614.9" cy="1039.4"/><circle r="7.43" cx="617.7" cy="1075.3"/><circle r="7.43" cx="620.5" cy="992.2"/><circle r="7.43" cx="623.3" cy="1075.8"/><circle r="7.43" cx="626.1" cy="1053.9"/><circle r="7.43" cx="628.9" cy="1132.6"/><circle r="7.43" cx="631.7" cy="1048.4"/><circle r="7.43" cx="634.5" cy="1042.2"/><circle r="7.43" cx="637.3" cy="1041.3"/><circle r="7.43" cx="640.1" cy="1024.8"/><circle r="7.43" cx="642.9" cy="963.6"/><circle r="7.43" cx="645.7" cy="969.7"/><circle r="7.43" cx="648.5" cy="1044.2"/><circle r="7.43" cx="651.3" cy="1018.6"/><circle r="7.43" cx="654.1" cy="1026.2"/><circle r="7.43" cx="656.9" cy="955.7"/><circle r="7.43" cx="659.7" cy="1104.1"/><circle r="7.43" cx="662.5" cy="1083.7"/><circle r="7.43" cx="665.3" cy="1043.5"/><circle r="7.43" cx="668.1" cy="1096.6"/><circle r="7.43" cx="670.9" cy="1067.2"/><circle r="7.43" cx="673.7" cy="1075.3"/><circle r="7.43" cx="676.5" cy="1083.7"/><circle r="7.43" cx="679.3" cy="1074.7"/><circle r="7.43" cx="682.1" cy="948.1"/><circle r="7.43" cx="684.9" cy="1033"/><circle r="7.43" cx="687.7" cy="1105"/><circle r="7.43" cx="690.5" cy="1096.3"/><circle r="7.43" cx="693.3" cy="1053.4"/><circle r="7.43" cx="696.1" cy="991.1"/><circle r="7.43" cx="698.9" cy="1048.9"/><circle r="7.43" cx="701.7" cy="948.1"/><circle r="7.43" cx="704.5" cy="903.5"/><circle r="7.43" cx="707.3" cy="1057.9"/><circle r="7.43" cx="710.1" cy="990"/><circle r="7.43" cx="712.9" cy="1043.3"/><circle r="7.43" cx="715.7" cy="1104.1"/><circle r="7.43" cx="718.5" cy="992.8"/><circle r="7.43" cx="721.3" cy="1103.4"/><circle r="7.43" cx="724.1" cy="1039.9"/><circle r="7.43" cx="726.9" cy="946.5"/><circle r="7.43" cx="729.7" cy="1074.5"/><circle r="7.43" cx="732.5" cy="1085.6"/><circle r="7.43" cx="735.3" cy="1084.3"/><circle r="7.43" cx="738.1" cy="1068.3"/></g>
<rect class="l" x="158.40" y="884.80" width="602.00" height="409.60"/>
<path class="l" d="M177.90 1294.40H738.10M177.90 1294.40v19.80M317.95 1294.40v19.80M458.00 1294.40v19.80M598.05 1294.40v19.80M738.10 1294.40v19.80"/>
<text class="a" x="177.90" y="1365.68" text-anchor="middle">0</text>
<text class="a" x="317.95" y="1365.68" text-anchor="middle">50</text>
<text class="a" x="458.00" y="1365.68" text-anchor="middle">100</text>
<text class="a" x="598.05" y="1365.68" text-anchor="middle">150</text>
<text class="a" x="738.10" y="1365.68" text-anchor="middle">200</text>
<text class="a" x="459.40" y="1444.88" text-anchor="middle">Index</text>
<path class="l" d="M158.40 1226.90V926.90M158.40 1226.90h-19.80M158.40 1126.90h-19.80M158.40 1026.90h-19.80M158.40 926.90h-19.80"/>
<text class="a" transform="translate(110.88 1226.90) rotate(-90)" text-anchor="middle">-0.2</text>
<text class="a" transform="translate(110.88 1126.90) rotate(-90)" text-anchor="middle">-0.1</text>
<text class="a" transform="translate(110.88 1026.90) rotate(-90)" text-anchor="middle">0.0</text>
<text class="a" transform="translate(110.88 926.90) rotate(-90)" text-anchor="middle">0.1</text>
<text class="a" transform="translate(31.68 1089.60) rotate(-90)" text-anchor="middle">residual</text>
</g>
<g>
<g class="k"><circle r="7.43" cx="980.7" cy="1279.2"/><circle r="7.43" cx="983.5" cy="1279.2"/><circle r="7.43" cx="986.3" cy="1279.2"/><circle r="7.43" cx="989.1" cy="1279.2"/><circle r="7.43" cx="991.9" cy="1279.2"/><circle r="7.43" cx="994.7" cy="1279.2"/><circle r="7.43" cx="997.5" cy="1279.2"/><circle r="7.43" cx="1000.3" cy="1279.2"/><circle r="7.43" cx="1003.1" cy="1279.2"/><circle r="7.43" cx="1005.9" cy="1279.2"/><circle r="7.43" cx="1008.7" cy="1279.2"/><circle r="7.43" cx="1011.5" cy="1279.2"/><circle r="7.43" cx="1014.3" cy="1279.2"/><circle r="7.43" cx="1017.1" cy="1156.2"/><circle r="7.43" cx="1019.9" cy="1279.2"/><circle r="7.43" cx="1022.7" cy="1131"/><circle r="7.43" cx="1025.5" cy="1279.2"/><circle r="7.43" cx="1028.3" cy="1279.2"/><circle r="7.43" cx="1031.1" cy="1279.2"/><circle r="7.43" cx="1033.9" cy="1279.2"/><circle r="7.43" cx="1036.7" cy="1279.2"/><circle r="7.43" cx="1039.5" cy="1279.2"/><circle r="7.43" cx="1042.3" cy="1279.2"/><circle r="7.43" cx="1045.1" cy="1279.2"/><circle r="7.43" cx="1047.9" cy="1279.2"/><circle r="7.43" cx="1050.7" cy="1279.2"/><circle r="7.43" cx="1053.5" cy="1279.2"/><circle r="7.43" cx="1056.3" cy="1279.2"/><circle r="7.43" cx="1059.1" cy="1279.2"/><circle r="7.43" cx="1061.9" cy="1279.2"/><circle r="7.43" cx="1064.7" cy="1279.2"/><circle r="7.43" cx="1067.5" cy="1279.2"/><circle r="7.43" cx="1070.3" cy="1279.2"/><circle r="7.43" cx="1073.1" cy="1279.2"/><circle r="7.43" cx="1075.9" cy="1279.2"/><circle r="7.43" cx="1078.7" cy="1279.2"/><circle r="7.43" cx="1081.5" cy="1138.8"/><circle r="7.43" cx="1084.3" cy="1279.2"/><circle r="7.43" cx="1087.1" cy="1279.2"/><circle r="7.43" cx="1089.9" cy="1279.2"/><circle r="7.43" cx="1092.7" cy="1279.2"/><circle r="7.43" cx="1095.5" cy="1208.6"/><circle r="7.43" cx="1098.3" cy="1279.2"/><circle r="7.43" cx="1101.1" cy="1279.2"/><circle r="7.43" cx="1103.9" cy="1279.2"/><circle r="7.43" cx="1106.7" cy="1279.2"/><circle r="7.43" cx="1109.5" cy="1279.2"/><circle r="7.43" cx="1112.3" cy="1279.2"/><circle r="7.43" cx="1115.1" cy="1279.2"/><circle r="7.43" cx="1117.9" cy="1138.8"/><circle r="7.43" cx="1120.7" cy="1279.2"/><circle r="7.43" cx="1123.5" cy="1279.2"/><circle r="7.43" cx="1126.4" cy="1279.2"/><circle r="7.43" cx="1129.2" cy="1279.2"/><circle r="7.43" cx="1132" cy="1279.2"/><circle r="7.43" cx="1134.8" cy="1279.2"/><circle r="7.43" cx="1137.6" cy="1279.2"/><circle r="7.43" cx="1140.4" cy="930.9"/><circle r="7.43" cx="1143.2" cy="1279.2"/><circle r="7.43" cx="1146" cy="1279.2"/><circle r="7.43" cx="1148.8" cy="1279.2"/><circle r="7.43" cx="1151.6" cy="1279.2"/><circle r="7.43" cx="1154.4" cy="1279.2"/><circle r="7.43" cx="1157.2" cy="1279.2"/><circle r="7.43" cx="1160" cy="1279.2"/><circle r="7.43" cx="1162.8" cy="1279.2"/><circle r="7.43" cx="1165.6" cy="1279.2"/><circle r="7.43" cx="1168.4" cy="1279.2"/><circle r="7.43" cx="1171.2" cy="1279.2"/><circle r="7.43" cx="1174" cy="1062.1"/><circle r="7.43" cx="1176.8" cy="1279.2"/><circle r="7.43" cx="1179.6" cy="1279.2"/><circle r="7.43" cx="1182.4" cy="1279.2"/><circle r="7.43" cx="1185.2" cy="1279.2"/><circle r="7.43" cx="1188" cy="900"/><circle r="7.43" cx="1190.8" cy="1279.2"/><circle r="7.43" cx="1193.6" cy="1279.2"/><circle r="7.43" cx="1196.4" cy="1264.8"/><circle r="7.43" cx="1199.2" cy="1279.2"/><circle r="7.43" cx="1202" cy="1279.2"/><circle r="7.43" cx="1204.8" cy="1279.2"/><circle r="7.43" cx="1207.6" cy="1279.2"/><circle r="7.43" cx="1210.4" cy="1279.2"/><circle r="7.43" cx="1213.2" cy="1279.2"/><circle r="7.43" cx="1216" cy="1279.2"/><circle r="7.43" cx="1218.8" cy="1279.2"/><circle r="7.43" cx="1221.6" cy="1279.2"/><circle r="7.43" cx="1224.4" cy="1279.2"/><circle r="7.43" cx="1227.2" cy="1279.2"/><circle r="7.43" cx="1230" cy="1279.2"/><circle r="7.43" cx="1232.8" cy="1279.2"/><circle r="7.43" cx="1235.6" cy="1279.2"/><circle r="7.43" cx="1238.4" cy="1279.2"/><circle r="7.43" cx="1241.2" cy="1279.2"/><circle r="7.43" cx="1244" cy="1263.7"/><circle r="7.43" cx="1246.8" cy="1279.2"/><circle r="7.43" cx="1249.6" cy="1279.2"/><circle r="7.43" cx="1252.4" cy="1279.2"/><circle r="7.43" cx="1255.2" cy="1279.2"/><circle r="7.43" cx="1258" cy="1279.2"/><circle r="7.43" cx="1260.8" cy="1279.2"/><circle r="7.43" cx="1263.6" cy="1279.2"/><circle r="7.43" cx="1266.4" cy="1279.2"/><circle r="7.43" cx="1269.2" cy="1279.2"/><circle r="7.43" cx="1272" cy="1279.2"/><circle r="7.43" cx="1274.8" cy="1279.2"/><circle r="7.43" cx="1277.6" cy="1279.2"/><circle r="7.43" cx="1280.4" cy="1279.2"/><circle r="7.43" cx="1283.2" cy="1279.2"/><circle r="7.43" cx="1286" cy="1279.2"/><circle r="7.43" cx="1288.8" cy="1279.2"/><circle r="7.43" cx="1291.6" cy="1279.2"/><circle r="7.43" cx="1294.4" cy="1279.2"/><circle r="7.43" cx="1297.2" cy="1279.2"/><circle r="7.43" cx="1300" cy="1279.2"/><circle r="7.43" cx="1302.8" cy="1279.2"/><circle r="7.43" cx="1305.6" cy="1279.2"/><circle r="7.43" cx="1308.4" cy="1279.2"/><circle r="7.43" cx="1311.2" cy="1279.2"/><circle r="7.43" cx="1314" cy="1279.2"/><circle r="7.43" cx="1316.8" cy="1279.2"/><circle r="7.43" cx="1319.6" cy="1279.2"/><circle r="7.43" cx="1322.4" cy="1279.2"/><circle r="7.43" cx="1325.2" cy="1279.2"/><circle r="7.43" cx="1328" cy="1279.2"/><circle r="7.43" cx="1330.8" cy="1279.2"/><circle r="7.43" cx="1333.6" cy="1279.2"/><circle r="7.43" cx="1336.4" cy="1279.2"/><circle r="7.43" cx="1339.2" cy="1263.7"/><circle r="7.43" cx="1342" cy="1279.2"/><circle r="7.43" cx="1344.8" cy="1279.2"/><circle r="7.43" cx="1347.6" cy="1279.2"/><circle r="7.43" cx="1350.4" cy="1279.2"/><circle r="7.43" cx="1353.2" cy="1279.2"/><circle r="7.43" cx="1356" cy="1279.2"/><circle r="7.43" cx="1358.8" cy="1279.2"/><circle r="7.43" cx="1361.6" cy="1279.2"/><circle r="7.43" cx="1364.4" cy="1279.2"/><circle r="7.43" cx="1367.2" cy="1279.2"/><circle r="7.43" cx="1370" cy="1279.2"/><circle r="7.43" cx="1372.8" cy="1279.2"/><circle r="7.43" cx="1375.6" cy="1279.2"/><circle r="7.43" cx="1378.4" cy="1279.2"/><circle r="7.43" cx="1381.2" cy="1279.2"/><circle r="7.43" cx="1384" cy="1279.2"/><circle r="7.43" cx="1386.8" cy="1279.2"/><circle r="7.43" cx="1389.6" cy="1279.2"/><circle r="7.43" cx="1392.4" cy="1279.2"/><circle r="7.43" cx="1395.3" cy="1279.2"/><circle r="7.43" cx="1398.1" cy="1279.2"/><circle r="7.43" cx="1400.9" cy="1279.2"/><circle r="7.43" cx="1403.7" cy="1279.2"/><circle r="7.43" cx="1406.5" cy="1279.2"/><circle r="7.43" cx="1409.3" cy="1279.2"/><circle r="7.43" cx="1412.1" cy="1279.2"/><circle r="7.43" cx="1414.9" cy="1279.2"/><circle r="7.43" cx="1417.7" cy="1279.2"/><circle r="7.43" cx="1420.5" cy="1279.2"/><circle r="7.43" cx="1423.3" cy="1279.2"/><circle r="7.43" cx="1426.1" cy="1279.2"/><circle r="7.43" cx="1428.9" cy="1279.2"/><circle r="7.43" cx="1431.7" cy="1279.2"/><circle r="7.43" cx="1434.5" cy="1279.2"/><circle r="7.43" cx="1437.3" cy="1279.2"/><circle r="7.43" cx="1440.1" cy="1279.2"/><circle r="7.43" cx="1442.9" cy="1279.2"/><circle r="7.43" cx="1445.7" cy="1279.2"/><circle r="7.43" cx="1448.5" cy="1279.2"/><circle r="7.43" cx="1451.3" cy="1279.2"/><circle r="7.43" cx="1454.1" cy="1279.2"/><circle r="7.43" cx="1456.9" cy="1279.2"/><circle r="7.43" cx="1459.7" cy="1279.2"/><circle r="7.43" cx="1462.5" cy="1279.2"/><circle r="7.43" cx="1465.3" cy="1279.2"/><circle r="7.43" cx="1468.1" cy="1279.2"/><circle r="7.43" cx="1470.9" cy="1279.2"/><circle r="7.43" cx="1473.7" cy="1279.2"/><circle r="7.43" cx="1476.5" cy="1279.2"/><circle r="7.43" cx="1479.3" cy="1279.2"/><circle r="7.43" cx="1482.1" cy="1279.2"/><circle r="7.43" cx="1484.9" cy="1279.2"/><circle r="7.43" cx="1487.7" cy="1279.2"/><circle r="7.43" cx="1490.5" cy="1279.2"/><circle r="7.43" cx="1493.3" cy="1279.2"/><circle r="7.43" cx="1496.1" cy="1279.2"/><circle r="7.43" cx="1498.9" cy="1279.2"/><circle r="7.43" cx="1501.7" cy="1279.2"/><circle r="7.43" cx="1504.5" cy="1279.2"/><circle r="7.43" cx="1507.3" cy="1279.2"/><circle r="7.43" cx="1510.1" cy="1279.2"/><circle r="7.43" cx="1512.9" cy="1279.2"/><circle r="7.43" cx="1515.7" cy="1279.2"/><circle r="7.43" cx="1518.5" cy="1279.2"/><circle r="7.43" cx="1521.3" cy="1279.2"/><circle r="7.43" cx="1524.1" cy="1279.2"/><circle r="7.43" cx="1526.9" cy="1279.2"/><circle r="7.43" cx="1529.7" cy="1279.2"/><circle r="7.43" cx="1532.5" cy="1279.2"/><circle r="7.43" cx="1535.3" cy="1279.2"/><circle r="7.43" cx="1538.1" cy="1279.2"/><circle r="7.43" cx="1140.4" cy="930.9" fill="#d73a5b"/><circle r="7.43" cx="1260.8" cy="1279.2" fill="#d73a5b"/></g>
<rect class="l" x="958.40" y="884.80" width="602.00" height="409.60"/>
<path class="l" d="M977.90 1294.40H1538.10M977.90 1294.40v19.80M1117.95 1294.40v19.80M1258.00 1294.40v19.80M1398.05 1294.40v19.80M1538.10 1294.40v19.80"/>
<text class="a" x="977.90" y="1365.68" text-anchor="middle">0</text>
<text class="a" x="1117.95" y="1365.68" text-anchor="middle">50</text>
<text class="a" x="1258.00" y="1365.68" text-anchor="middle">100</text>
<text class="a" x="1398.05" y="1365.68" text-anchor="middle">150</text>
<text class="a" x="1538.10" y="1365.68" text-anchor="middle">200</text>
<text class="a" x="1259.40" y="1444.88" text-anchor="middle">variable</text>
<path class="l" d="M958.40 1279.23V955.93M958.40 1279.23h-19.80M958.40 1198.40h-19.80M958.40 1117.58h-19.80M958.40 1036.76h-19.80M958.40 955.93h-19.80"/>
<text class="a" transform="translate(910.88 1279.23) rotate(-90)" text-anchor="middle">0.00</text>
<text class="a" transform="translate(910.88 1117.58) rotate(-90)" text-anchor="middle">0.10</text>
<text class="a" transform="translate(910.88 955.93) rotate(-90)" text-anchor="middle">0.20</text>
<text class="a" transform="translate(831.68 1089.60) rotate(-90)" text-anchor="middle">PIP</text>
</g>
<g>
<g class="k"><circle r="7.43" cx="1780.7" cy="964.4"/><circle r="7.43" cx="1783.5" cy="1169.8"/><circle r="7.43" cx="1786.3" cy="1011.5"/><circle r="7.43" cx="1789.1" cy="964.4"/><circle r="7.43" cx="1791.9" cy="1114.5"/><circle r="7.43" cx="1794.7" cy="964.4"/><circle r="7.43" cx="1797.5" cy="964.4"/><circle r="7.43" cx="1800.3" cy="964.4"/><circle r="7.43" cx="1803.1" cy="1014.3"/><circle r="7.43" cx="1805.9" cy="1181.6"/><circle r="7.43" cx="1808.7" cy="1000.3"/><circle r="7.43" cx="1811.5" cy="970.9"/><circle r="7.43" cx="1814.3" cy="1050.3"/><circle r="7.43" cx="1817.1" cy="1136.7"/><circle r="7.43" cx="1819.9" cy="1050.3"/><circle r="7.43" cx="1822.7" cy="1131.6"/><circle r="7.43" cx="1825.5" cy="1102.4"/><circle r="7.43" cx="1828.3" cy="1120.7"/><circle r="7.43" cx="1831.1" cy="964.4"/><circle r="7.43" cx="1833.9" cy="964.4"/><circle r="7.43" cx="1836.7" cy="964.4"/><circle r="7.43" cx="1839.5" cy="1138.1"/><circle r="7.43" cx="1842.3" cy="1051.1"/><circle r="7.43" cx="1845.1" cy="1241.3"/><circle r="7.43" cx="1847.9" cy="964.4"/><circle r="7.43" cx="1850.7" cy="963.7"/><circle r="7.43" cx="1853.5" cy="1062.1"/><circle r="7.43" cx="1856.3" cy="1122.6"/><circle r="7.43" cx="1859.1" cy="1104.4"/><circle r="7.43" cx="1861.9" cy="1060.9"/><circle r="7.43" cx="1864.7" cy="964.4"/><circle r="7.43" cx="1867.5" cy="1050.1"/><circle r="7.43" cx="1870.3" cy="1084.3"/><circle r="7.43" cx="1873.1" cy="1126"/><circle r="7.43" cx="1875.9" cy="1209.4"/><circle r="7.43" cx="1878.7" cy="964.4"/><circle r="7.43" cx="1881.5" cy="1127.5"/><circle r="7.43" cx="1884.3" cy="964.4"/><circle r="7.43" cx="1887.1" cy="1167.5"/><circle r="7.43" cx="1889.9" cy="1035.7"/><circle r="7.43" cx="1892.7" cy="1035.9"/><circle r="7.43" cx="1895.5" cy="1109.1"/><circle r="7.43" cx="1898.3" cy="1141.9"/><circle r="7.43" cx="1901.1" cy="1168.7"/><circle r="7.43" cx="1903.9" cy="1050.3"/><circle r="7.43" cx="1906.7" cy="1082.3"/><circle r="7.43" cx="1909.5" cy="964.4"/><circle r="7.43" cx="1912.3" cy="950.9"/><circle r="7.43" cx="1915.1" cy="964.4"/><circle r="7.43" cx="1917.9" cy="1127.5"/><circle r="7.43" cx="1920.7" cy="1020.5"/><circle r="7.43" cx="1923.5" cy="1181"/><circle r="7.43" cx="1926.4" cy="1181"/><circle r="7.43" cx="1929.2" cy="1181"/><circle r="7.43" cx="1932" cy="964.4"/><circle r="7.43" cx="1934.8" cy="972"/><circle r="7.43" cx="1937.6" cy="1081.5"/><circle r="7.43" cx="1940.4" cy="1166.6" fill="#ff0000"/><circle r="7.43" cx="1943.2" cy="1057.4"/><circle r="7.43" cx="1946" cy="1210.6"/><circle r="7.43" cx="1948.8" cy="1198.4"/><circle r="7.43" cx="1951.6" cy="1161.4"/><circle r="7.43" cx="1954.4" cy="1169.8"/><circle r="7.43" cx="1957.2" cy="1186.6"/><circle r="7.43" cx="1960" cy="981.4"/><circle r="7.43" cx="1962.8" cy="1050.3"/><circle r="7.43" cx="1965.6" cy="1165.3"/><circle r="7.43" cx="1968.4" cy="1153.7"/><circle r="7.43" cx="1971.2" cy="1153.7"/><circle r="7.43" cx="1974" cy="1166.4"/><circle r="7.43" cx="1976.8" cy="1181"/><circle r="7.43" cx="1979.6" cy="1055.1"/><circle r="7.43" cx="1982.4" cy="1167.8"/><circle r="7.43" cx="1985.2" cy="1114.4"/><circle r="7.43" cx="1988" cy="1172.8"/><circle r="7.43" cx="1990.8" cy="1019.4"/><circle r="7.43" cx="1993.6" cy="1032.3"/><circle r="7.43" cx="1996.4" cy="1104.1"/><circle r="7.43" cx="1999.2" cy="970.9"/><circle r="7.43" cx="2002" cy="1065.4"/><circle r="7.43" cx="2004.8" cy="911.4"/><circle r="7.43" cx="2007.6" cy="1158.3"/><circle r="7.43" cx="2010.4" cy="1075"/><circle r="7.43" cx="2013.2" cy="1054.9"/><circle r="7.43" cx="2016" cy="1154"/><circle r="7.43" cx="2018.8" cy="1082.1"/><circle r="7.43" cx="2021.6" cy="1114.3"/><circle r="7.43" cx="2024.4" cy="945.3"/><circle r="7.43" cx="2027.2" cy="1082.7"/><circle r="7.43" cx="2030" cy="1168.6"/><circle r="7.43" cx="2032.8" cy="1080.4"/><circle r="7.43" cx="2035.6" cy="1078.7"/><circle r="7.43" cx="2038.4" cy="1136.6"/><circle r="7.43" cx="2041.2" cy="1076.5"/><circle r="7.43" cx="2044" cy="1105.1"/><circle r="7.43" cx="2046.8" cy="1136.6"/><circle r="7.43" cx="2049.6" cy="1077.1"/><circle r="7.43" cx="2052.4" cy="1065.5"/><circle r="7.43" cx="2055.2" cy="1101.2"/><circle r="7.43" cx="2058" cy="1253.7"/><circle r="7.43" cx="2060.8" cy="970.3" fill="#ff0000"/><circle r="7.43" cx="2063.6" cy="970.3"/><circle r="7.43" cx="2066.4" cy="1168.6"/><circle r="7.43" cx="2069.2" cy="1010.4"/><circle r="7.43" cx="2072" cy="1136.6"/><circle r="7.43" cx="2074.8" cy="1136.6"/><circle r="7.43" cx="2077.6" cy="1246.8"/><circle r="7.43" cx="2080.4" cy="970.8"/><circle r="7.43" cx="2083.2" cy="1089.4"/><circle r="7.43" cx="2086" cy="1109.4"/><circle r="7.43" cx="2088.8" cy="1134.3"/><circle r="7.43" cx="2091.6" cy="1067.2"/><circle r="7.43" cx="2094.4" cy="1067.2"/><circle r="7.43" cx="2097.2" cy="1067.2"/><circle r="7.43" cx="2100" cy="1067.2"/><circle r="7.43" cx="2102.8" cy="1007.9"/><circle r="7.43" cx="2105.6" cy="1246.8"/><circle r="7.43" cx="2108.4" cy="1103.5"/><circle r="7.43" cx="2111.2" cy="1067.5"/><circle r="7.43" cx="2114" cy="1106.8"/><circle r="7.43" cx="2116.8" cy="1105.1"/><circle r="7.43" cx="2119.6" cy="1054.6"/><circle r="7.43" cx="2122.4" cy="1101.2"/><circle r="7.43" cx="2125.2" cy="1107.9"/><circle r="7.43" cx="2128" cy="1138.8"/><circle r="7.43" cx="2130.8" cy="1105.7"/><circle r="7.43" cx="2133.6" cy="1054.6"/><circle r="7.43" cx="2136.4" cy="1138.8"/><circle r="7.43" cx="2139.2" cy="1105.1"/><circle r="7.43" cx="2142" cy="1116.6"/><circle r="7.43" cx="2144.8" cy="1116.9"/><circle r="7.43" cx="2147.6" cy="1279.2"/><circle r="7.43" cx="2150.4" cy="1102.3"/><circle r="7.43" cx="2153.2" cy="1056.8"/><circle r="7.43" cx="2156" cy="1069.8"/><circle r="7.43" cx="2158.8" cy="1039.6"/><circle r="7.43" cx="2161.6" cy="1137.7"/><circle r="7.43" cx="2164.4" cy="1117.2"/><circle r="7.43" cx="2167.2" cy="1168.6"/><circle r="7.43" cx="2170" cy="983.7"/><circle r="7.43" cx="2172.8" cy="1113.6"/><circle r="7.43" cx="2175.6" cy="1059.7"/><circle r="7.43" cx="2178.4" cy="1046.7"/><circle r="7.43" cx="2181.2" cy="1105.1"/><circle r="7.43" cx="2184" cy="1117.5"/><circle r="7.43" cx="2186.8" cy="1051.6"/><circle r="7.43" cx="2189.6" cy="1108.3"/><circle r="7.43" cx="2192.4" cy="1049.7"/><circle r="7.43" cx="2195.3" cy="1065.4"/><circle r="7.43" cx="2198.1" cy="1137.4"/><circle r="7.43" cx="2200.9" cy="1065.4"/><circle r="7.43" cx="2203.7" cy="1046.7"/><circle r="7.43" cx="2206.5" cy="1046.7"/><circle r="7.43" cx="2209.3" cy="1258"/><circle r="7.43" cx="2212.1" cy="1117.3"/><circle r="7.43" cx="2214.9" cy="1046.9"/><circle r="7.43" cx="2217.7" cy="1032"/><circle r="7.43" cx="2220.5" cy="1025.9"/><circle r="7.43" cx="2223.3" cy="1168.6"/><circle r="7.43" cx="2226.1" cy="1094.7"/><circle r="7.43" cx="2228.9" cy="1130.4"/><circle r="7.43" cx="2231.7" cy="1193.5"/><circle r="7.43" cx="2234.5" cy="1022.2"/><circle r="7.43" cx="2237.3" cy="1007.6"/><circle r="7.43" cx="2240.1" cy="970"/><circle r="7.43" cx="2242.9" cy="907.9"/><circle r="7.43" cx="2245.7" cy="980.7"/><circle r="7.43" cx="2248.5" cy="1026.7"/><circle r="7.43" cx="2251.3" cy="1186"/><circle r="7.43" cx="2254.1" cy="914.4"/><circle r="7.43" cx="2256.9" cy="1105.5"/><circle r="7.43" cx="2259.7" cy="1246.5"/><circle r="7.43" cx="2262.5" cy="1168.6"/><circle r="7.43" cx="2265.3" cy="1026.5"/><circle r="7.43" cx="2268.1" cy="1258"/><circle r="7.43" cx="2270.9" cy="1143.5"/><circle r="7.43" cx="2273.7" cy="1165.6"/><circle r="7.43" cx="2276.5" cy="1169.2"/><circle r="7.43" cx="2279.3" cy="1165.2"/><circle r="7.43" cx="2282.1" cy="900"/><circle r="7.43" cx="2284.9" cy="1083"/><circle r="7.43" cx="2287.7" cy="1246.5"/><circle r="7.43" cx="2290.5" cy="1258"/><circle r="7.43" cx="2293.3" cy="1138.3"/><circle r="7.43" cx="2296.1" cy="993.2"/><circle r="7.43" cx="2298.9" cy="1045.2"/><circle r="7.43" cx="2301.7" cy="899.8"/><circle r="7.43" cx="2304.5" cy="984.4"/><circle r="7.43" cx="2307.3" cy="1120.3"/><circle r="7.43" cx="2310.1" cy="1044.7"/><circle r="7.43" cx="2312.9" cy="1024.8"/><circle r="7.43" cx="2315.7" cy="1246.5"/><circle r="7.43" cx="2318.5" cy="1031.7"/><circle r="7.43" cx="2321.3" cy="1243"/><circle r="7.43" cx="2324.1" cy="1043.2"/><circle r="7.43" cx="2326.9" cy="906.9"/><circle r="7.43" cx="2329.7" cy="1108.7"/><circle r="7.43" cx="2332.5" cy="1203.6"/><circle r="7.43" cx="2335.3" cy="1200.3"/><circle r="7.43" cx="2338.1" cy="1141.1"/></g>
<rect class="l" x="1758.40" y="884.80" width="602.00" height="409.60"/>
<path class="l" d="M1777.90 1294.40H2338.10M1777.90 1294.40v19.80M1917.95 1294.40v19.80M2058.00 1294.40v19.80M2198.05 1294.40v19.80M2338.10 1294.40v19.80"/>
<text class="a" x="1777.90" y="1365.68" text-anchor="middle">0</text>
<text class="a" x="1917.95" y="1365.68" text-anchor="middle">50</text>
<text class="a" x="2058.00" y="1365.68" text-anchor="middle">100</text>
<text class="a" x="2198.05" y="1365.68" text-anchor="middle">150</text>
<text class="a" x="2338.10" y="1365.68" text-anchor="middle">200</text>
<text class="a" x="2059.40" y="1444.88" text-anchor="middle">Index</text>
<path class="l" d="M1758.40 1233.20V909.80M1758.40 1233.20h-19.80M1758.40 1152.35h-19.80M1758.40 1071.50h-19.80M1758.40 990.65h-19.80M1758.40 909.80h-19.80"/>
<text class="a" transform="translate(1710.88 1233.20) rotate(-90)" text-anchor="middle">-0.02</text>
<text class="a" transform="translate(1710.88 1071.50) rotate(-90)" text-anchor="middle">0.00</text>
<text class="a" transform="translate(1710.88 909.80) rotate(-90)" text-anchor="middle">0.02</text>
<text class="a" transform="translate(1631.68 1089.60) rotate(-90)" text-anchor="middle">residual</text>
</g>
<g>
<g class="k"><circle r="7.43" cx="180.7" cy="1611.6"/><circle r="7.43" cx="183.5" cy="1817"/><circle r="7.43" cx="186.3" cy="1658.7"/><circle r="7.43" cx="189.1" cy="1611.6"/><circle r="7.43" cx="191.9" cy="1761.7"/><circle r="7.43" cx="194.7" cy="1611.6"/><circle r="7.43" cx="197.5" cy="1611.6"/><circle r="7.43" cx="200.3" cy="1611.6"/><circle r="7.43" cx="203.1" cy="1661.5"/><circle r="7.43" cx="205.9" cy="1828.8"/><circle r="7.43" cx="208.7" cy="1647.5"/><circle r="7.43" cx="211.5" cy="1618.1"/><circle r="7.43" cx="214.3" cy="1697.5"/><circle r="7.43" cx="217.1" cy="1783.9"/><circle r="7.43" cx="219.9" cy="1697.5"/><circle r="7.43" cx="222.7" cy="1778.8"/><circle r="7.43" cx="225.5" cy="1749.6"/><circle r="7.43" cx="228.3" cy="1767.9"/><circle r="7.43" cx="231.1" cy="1611.6"/><circle r="7.43" cx="233.9" cy="1611.6"/><circle r="7.43" cx="236.7" cy="1611.6"/><circle r="7.43" cx="239.5" cy="1785.3"/><circle r="7.43" cx="242.3" cy="1698.3"/><circle r="7.43" cx="245.1" cy="1888.5"/><circle r="7.43" cx="247.9" cy="1611.6"/><circle r="7.43" cx="250.7" cy="1610.9"/><circle r="7.43" cx="253.5" cy="1709.3"/><circle r="7.43" cx="256.3" cy="1769.8"/><circle r="7.43" cx="259.1" cy="1751.6"/><circle r="7.43" cx="261.9" cy="1708.1"/><circle r="7.43" cx="264.7" cy="1611.6"/><circle r="7.43" cx="267.5" cy="1697.3"/><circle r="7.43" cx="270.3" cy="1731.5"/><circle r="7.43" cx="273.1" cy="1773.2"/><circle r="7.43" cx="275.9" cy="1856.6"/><circle r="7.43" cx="278.7" cy="1611.6"/><circle r="7.43" cx="281.5" cy="1774.7"/><circle r="7.43" cx="284.3" cy="1611.6"/><circle r="7.43" cx="287.1" cy="1814.7"/><circle r="7.43" cx="289.9" cy="1682.9"/><circle r="7.43" cx="292.7" cy="1683.1"/><circle r="7.43" cx="295.5" cy="1756.3"/><circle r="7.43" cx="298.3" cy="1789.1"/><circle r="7.43" cx="301.1" cy="1815.9"/><circle r="7.43" cx="303.9" cy="1697.5"/><circle r="7.43" cx="306.7" cy="1729.5"/><circle r="7.43" cx="309.5" cy="1611.6"/><circle r="7.43" cx="312.3" cy="1598.1"/><circle r="7.43" cx="315.1" cy="1611.6"/><circle r="7.43" cx="317.9" cy="1774.7"/><circle r="7.43" cx="320.7" cy="1667.7"/><circle r="7.43" cx="323.5" cy="1828.2"/><circle r="7.43" cx="326.4" cy="1828.2"/><circle r="7.43" cx="329.2" cy="1828.2"/><circle r="7.43" cx="332" cy="1611.6"/><circle r="7.43" cx="334.8" cy="1619.2"/><circle r="7.43" cx="337.6" cy="1728.7"/><circle r="7.43" cx="340.4" cy="1813.8" fill="#ff0000"/><circle r="7.43" cx="343.2" cy="1704.6"/><circle r="7.43" cx="346" cy="1857.8"/><circle r="7.43" cx="348.8" cy="1845.6"/><circle r="7.43" cx="351.6" cy="1808.6"/><circle r="7.43" cx="354.4" cy="1817"/><circle r="7.43" cx="357.2" cy="1833.8"/><circle r="7.43" cx="360" cy="1628.6"/><circle r="7.43" cx="362.8" cy="1697.5"/><circle r="7.43" cx="365.6" cy="1812.5"/><circle r="7.43" cx="368.4" cy="1800.9"/><circle r="7.43" cx="371.2" cy="1800.9"/><circle r="7.43" cx="374" cy="1813.6"/><circle r="7.43" cx="376.8" cy="1828.2"/><circle r="7.43" cx="379.6" cy="1702.3"/><circle r="7.43" cx="382.4" cy="1815"/><circle r="7.43" cx="385.2" cy="1761.6"/><circle r="7.43" cx="388" cy="1820"/><circle r="7.43" cx="390.8" cy="1666.6"/><circle r="7.43" cx="393.6" cy="1679.5"/><circle r="7.43" cx="396.4" cy="1751.3"/><circle r="7.43" cx="399.2" cy="1618.1"/><circle r="7.43" cx="402" cy="1712.6"/><circle r="7.43" cx="404.8" cy="1558.6"/><circle r="7.43" cx="407.6" cy="1805.5"/><circle r="7.43" cx="410.4" cy="1722.2"/><circle r="7.43" cx="413.2" cy="1702.1"/><circle r="7.43" cx="416" cy="1801.2"/><circle r="7.43" cx="418.8" cy="1729.3"/><circle r="7.43" cx="421.6" cy="1761.5"/><circle r="7.43" cx="424.4" cy="1592.5"/><circle r="7.43" cx="427.2" cy="1729.9"/><circle r="7.43" cx="430" cy="1815.8"/><circle r="7.43" cx="432.8" cy="1727.6"/><circle r="7.43" cx="435.6" cy="1725.9"/><circle r="7.43" cx="438.4" cy="1783.8"/><circle r="7.43" cx="441.2" cy="1723.7"/><circle r="7.43" cx="444" cy="1752.3"/><circle r="7.43" cx="446.8" cy="1783.8"/><circle r="7.43" cx="449.6" cy="1724.3"/><circle r="7.43" cx="452.4" cy="1712.7"/><circle r="7.43" cx="455.2" cy="1748.4"/><circle r="7.43" cx="458" cy="1900.9"/><circle r="7.43" cx="460.8" cy="1617.5" fill="#ff0000"/><circle r="7.43" cx="463.6" cy="1617.5"/><circle r="7.43" cx="466.4" cy="1815.8"/><circle r="7.43" cx="469.2" cy="1657.6"/><circle r="7.43" cx="472" cy="1783.8"/><circle r="7.43" cx="474.8" cy="1783.8"/><circle r="7.43" cx="477.6" cy="1894"/><circle r="7.43" cx="480.4" cy="1618"/><circle r="7.43" cx="483.2" cy="1736.6"/><circle r="7.43" cx="486" cy="1756.6"/><circle r="7.43" cx="488.8" cy="1781.5"/><circle r="7.43" cx="491.6" cy="1714.4"/><circle r="7.43" cx="494.4" cy="1714.4"/><circle r="7.43" cx="497.2" cy="1714.4"/><circle r="7.43" cx="500" cy="1714.4"/><circle r="7.43" cx="502.8" cy="1655.1"/><circle r="7.43" cx="505.6" cy="1894"/><circle r="7.43" cx="508.4" cy="1750.7"/><circle r="7.43" cx="511.2" cy="1714.7"/><circle r="7.43" cx="514" cy="1754"/><circle r="7.43" cx="516.8" cy="1752.3"/><circle r="7.43" cx="519.6" cy="1701.8"/><circle r="7.43" cx="522.4" cy="1748.4"/><circle r="7.43" cx="525.2" cy="1755.1"/><circle r="7.43" cx="528" cy="1786"/><circle r="7.43" cx="530.8" cy="1752.9"/><circle r="7.43" cx="533.6" cy="1701.8"/><circle r="7.43" cx="536.4" cy="1786"/><circle r="7.43" cx="539.2" cy="1752.3"/><circle r="7.43" cx="542" cy="1763.8"/><circle r="7.43" cx="544.8" cy="1764.1"/><circle r="7.43" cx="547.6" cy="1926.4"/><circle r="7.43" cx="550.4" cy="1749.5"/><circle r="7.43" cx="553.2" cy="1704"/><circle r="7.43" cx="556" cy="1717"/><circle r="7.43" cx="558.8" cy="1686.8"/><circle r="7.43" cx="561.6" cy="1784.9"/><circle r="7.43" cx="564.4" cy="1764.4"/><circle r="7.43" cx="567.2" cy="1815.8"/><circle r="7.43" cx="570" cy="1630.9"/><circle r="7.43" cx="572.8" cy="1760.8"/><circle r="7.43" cx="575.6" cy="1706.9"/><circle r="7.43" cx="578.4" cy="1693.9"/><circle r="7.43" cx="581.2" cy="1752.3"/><circle r="7.43" cx="584" cy="1764.7"/><circle r="7.43" cx="586.8" cy="1698.8"/><circle r="7.43" cx="589.6" cy="1755.5"/><circle r="7.43" cx="592.4" cy="1696.9"/><circle r="7.43" cx="595.3" cy="1712.6"/><circle r="7.43" cx="598.1" cy="1784.6"/><circle r="7.43" cx="600.9" cy="1712.6"/><circle r="7.43" cx="603.7" cy="1693.9"/><circle r="7.43" cx="606.5" cy="1693.9"/><circle r="7.43" cx="609.3" cy="1905.2"/><circle r="7.43" cx="612.1" cy="1764.5"/><circle r="7.43" cx="614.9" cy="1694.1"/><circle r="7.43" cx="617.7" cy="1679.2"/><circle r="7.43" cx="620.5" cy="1673.1"/><circle r="7.43" cx="623.3" cy="1815.8"/><circle r="7.43" cx="626.1" cy="1741.9"/><circle r="7.43" cx="628.9" cy="1777.6"/><circle r="7.43" cx="631.7" cy="1840.7"/><circle r="7.43" cx="634.5" cy="1669.4"/><circle r="7.43" cx="637.3" cy="1654.8"/><circle r="7.43" cx="640.1" cy="1617.2"/><circle r="7.43" cx="642.9" cy="1555.1"/><circle r="7.43" cx="645.7" cy="1627.9"/><circle r="7.43" cx="648.5" cy="1673.9"/><circle r="7.43" cx="651.3" cy="1833.2"/><circle r="7.43" cx="654.1" cy="1561.6"/><circle r="7.43" cx="656.9" cy="1752.7"/><circle r="7.43" cx="659.7" cy="1893.7"/><circle r="7.43" cx="662.5" cy="1815.8"/><circle r="7.43" cx="665.3" cy="1673.7"/><circle r="7.43" cx="668.1" cy="1905.2"/><circle r="7.43" cx="670.9" cy="1790.7"/><circle r="7.43" cx="673.7" cy="1812.8"/><circle r="7.43" cx="676.5" cy="1816.4"/><circle r="7.43" cx="679.3" cy="1812.4"/><circle r="7.43" cx="682.1" cy="1547.2"/><circle r="7.43" cx="684.9" cy="1730.2"/><circle r="7.43" cx="687.7" cy="1893.7"/><circle r="7.43" cx="690.5" cy="1905.2"/><circle r="7.43" cx="693.3" cy="1785.5"/><circle r="7.43" cx="696.1" cy="1640.4"/><circle r="7.43" cx="698.9" cy="1692.4"/><circle r="7.43" cx="701.7" cy="1547"/><circle r="7.43" cx="704.5" cy="1631.6"/><circle r="7.43" cx="707.3" cy="1767.5"/><circle r="7.43" cx="710.1" cy="1691.9"/><circle r="7.43" cx="712.9" cy="1672"/><circle r="7.43" cx="715.7" cy="1893.7"/><circle r="7.43" cx="718.5" cy="1678.9"/><circle r="7.43" cx="721.3" cy="1890.2"/><circle r="7.43" cx="724.1" cy="1690.4"/><circle r="7.43" cx="726.9" cy="1554.1"/><circle r="7.43" cx="729.7" cy="1755.9"/><circle r="7.43" cx="732.5" cy="1850.8"/><circle r="7.43" cx="735.3" cy="1847.5"/><circle r="7.43" cx="738.1" cy="1788.3"/></g>
<rect class="l" x="158.40" y="1532.00" width="602.00" height="409.60"/>
<path class="l" d="M177.90 1941.60H738.10M177.90 1941.60v19.80M317.95 1941.60v19.80M458.00 1941.60v19.80M598.05 1941.60v19.80M738.10 1941.60v19.80"/>
<text class="a" x="177.90" y="2012.88" text-anchor="middle">0</text>
<text class="a" x="317.95" y="2012.88" text-anchor="middle">50</text>
<text class="a" x="458.00" y="2012.88" text-anchor="middle">100</text>
<text class="a" x="598.05" y="2012.88" text-anchor="middle">150</text>
<text class="a" x="738.10" y="2012.88" text-anchor="middle">200</text>
<text class="a" x="459.40" y="2092.08" text-anchor="middle">Index</text>
<path class="l" d="M158.40 1880.40V1557.00M158.40 1880.40h-19.80M158.40 1799.55h-19.80M158.40 1718.70h-19.80M158.40 1637.85h-19.80M158.40 1557.00h-19.80"/>
<text class="a" transform="translate(110.88 1880.40) rotate(-90)" text-anchor="middle">-0.02</text>
<text class="a" transform="translate(110.88 1718.70) rotate(-90)" text-anchor="middle">0.00</text>
<text class="a" transform="translate(110.88 1557.00) rotate(-90)" text-anchor="middle">0.02</text>
<text class="a" transform="translate(31.68 1736.80) rotate(-90)" text-anchor="middle">residual</text>
</g>
<g>
<g class="k"><circle r="7.43" cx="980.7" cy="1831.3"/><circle r="7.43" cx="983.5" cy="1846.6"/><circle r="7.43" cx="986.3" cy="1897"/><circle r="7.43" cx="989.1" cy="1831.3"/><circle r="7.43" cx="991.9" cy="1911.4"/><circle r="7.43" cx="994.7" cy="1831.3"/><circle r="7.43" cx="997.5" cy="1831.3"/><circle r="7.43" cx="1000.3" cy="1831.3"/><circle r="7.43" cx="1003.1" cy="1899.7"/><circle r="7.43" cx="1005.9" cy="1825.8"/><circle r="7.43" cx="1008.7" cy="1884.9"/><circle r="7.43" cx="1011.5" cy="1842.7"/><circle r="7.43" cx="1014.3" cy="1922.8"/><circle r="7.43" cx="1017.1" cy="1891.6"/><circle r="7.43" cx="1019.9" cy="1922.8"/><circle r="7.43" cx="1022.7" cy="1896.9"/><circle r="7.43" cx="1025.5" cy="1918.7"/><circle r="7.43" cx="1028.3" cy="1906.7"/><circle r="7.43" cx="1031.1" cy="1831.3"/><circle r="7.43" cx="1033.9" cy="1831.3"/><circle r="7.43" cx="1036.7" cy="1831.3"/><circle r="7.43" cx="1039.5" cy="1890.1"/><circle r="7.43" cx="1042.3" cy="1923"/><circle r="7.43" cx="1045.1" cy="1679.3"/><circle r="7.43" cx="1047.9" cy="1831.3"/><circle r="7.43" cx="1050.7" cy="1830.1"/><circle r="7.43" cx="1053.5" cy="1925.7"/><circle r="7.43" cx="1056.3" cy="1905.1"/><circle r="7.43" cx="1059.1" cy="1917.6"/><circle r="7.43" cx="1061.9" cy="1925.5"/><circle r="7.43" cx="1064.7" cy="1831.3"/><circle r="7.43" cx="1067.5" cy="1922.7"/><circle r="7.43" cx="1070.3" cy="1925.1"/><circle r="7.43" cx="1073.1" cy="1902.2"/><circle r="7.43" cx="1075.9" cy="1766.6"/><circle r="7.43" cx="1078.7" cy="1831.3"/><circle r="7.43" cx="1081.5" cy="1900.8"/><circle r="7.43" cx="1084.3" cy="1831.3"/><circle r="7.43" cx="1087.1" cy="1850.3"/><circle r="7.43" cx="1089.9" cy="1916"/><circle r="7.43" cx="1092.7" cy="1916.1"/><circle r="7.43" cx="1095.5" cy="1914.9"/><circle r="7.43" cx="1098.3" cy="1885.8"/><circle r="7.43" cx="1101.1" cy="1848.4"/><circle r="7.43" cx="1103.9" cy="1922.8"/><circle r="7.43" cx="1106.7" cy="1925.5"/><circle r="7.43" cx="1109.5" cy="1831.3"/><circle r="7.43" cx="1112.3" cy="1805.2"/><circle r="7.43" cx="1115.1" cy="1831.3"/><circle r="7.43" cx="1117.9" cy="1900.8"/><circle r="7.43" cx="1120.7" cy="1905.2"/><circle r="7.43" cx="1123.5" cy="1826.9"/><circle r="7.43" cx="1126.4" cy="1826.9"/><circle r="7.43" cx="1129.2" cy="1826.9"/><circle r="7.43" cx="1132" cy="1831.3"/><circle r="7.43" cx="1134.8" cy="1844.6"/><circle r="7.43" cx="1137.6" cy="1925.6"/><circle r="7.43" cx="1140.4" cy="1851.8"/><circle r="7.43" cx="1143.2" cy="1924.8"/><circle r="7.43" cx="1146" cy="1763.7"/><circle r="7.43" cx="1148.8" cy="1791.8"/><circle r="7.43" cx="1151.6" cy="1859.8"/><circle r="7.43" cx="1154.4" cy="1846.6"/><circle r="7.43" cx="1157.2" cy="1816.2"/><circle r="7.43" cx="1160" cy="1859.5"/><circle r="7.43" cx="1162.8" cy="1922.8"/><circle r="7.43" cx="1165.6" cy="1853.8"/><circle r="7.43" cx="1168.4" cy="1870.9"/><circle r="7.43" cx="1171.2" cy="1870.9"/><circle r="7.43" cx="1174" cy="1852.1"/><circle r="7.43" cx="1176.8" cy="1826.9"/><circle r="7.43" cx="1179.6" cy="1924.2"/><circle r="7.43" cx="1182.4" cy="1849.9"/><circle r="7.43" cx="1185.2" cy="1911.4"/><circle r="7.43" cx="1188" cy="1841.5"/><circle r="7.43" cx="1190.8" cy="1904.3"/><circle r="7.43" cx="1193.6" cy="1913.9"/><circle r="7.43" cx="1196.4" cy="1917.8"/><circle r="7.43" cx="1199.2" cy="1842.7"/><circle r="7.43" cx="1202" cy="1926.1"/><circle r="7.43" cx="1204.8" cy="1706.8"/><circle r="7.43" cx="1207.6" cy="1864.4"/><circle r="7.43" cx="1210.4" cy="1926.3"/><circle r="7.43" cx="1213.2" cy="1924.2"/><circle r="7.43" cx="1216" cy="1870.5"/><circle r="7.43" cx="1218.8" cy="1925.5"/><circle r="7.43" cx="1221.6" cy="1911.5"/><circle r="7.43" cx="1224.4" cy="1793.3"/><circle r="7.43" cx="1227.2" cy="1925.4"/><circle r="7.43" cx="1230" cy="1848.6"/><circle r="7.43" cx="1232.8" cy="1925.8"/><circle r="7.43" cx="1235.6" cy="1926"/><circle r="7.43" cx="1238.4" cy="1891.8"/><circle r="7.43" cx="1241.2" cy="1926.2"/><circle r="7.43" cx="1244" cy="1917.2"/><circle r="7.43" cx="1246.8" cy="1891.8"/><circle r="7.43" cx="1249.6" cy="1926.2"/><circle r="7.43" cx="1252.4" cy="1926.1"/><circle r="7.43" cx="1255.2" cy="1919.3"/><circle r="7.43" cx="1258" cy="1639.4"/><circle r="7.43" cx="1260.8" cy="1841.7"/><circle r="7.43" cx="1263.6" cy="1841.7"/><circle r="7.43" cx="1266.4" cy="1848.6"/><circle r="7.43" cx="1269.2" cy="1895.9"/><circle r="7.43" cx="1272" cy="1891.8"/><circle r="7.43" cx="1274.8" cy="1891.8"/><circle r="7.43" cx="1277.6" cy="1661.6"/><circle r="7.43" cx="1280.4" cy="1842.6"/><circle r="7.43" cx="1283.2" cy="1923.8"/><circle r="7.43" cx="1286" cy="1914.7"/><circle r="7.43" cx="1288.8" cy="1894.2"/><circle r="7.43" cx="1291.6" cy="1926.3"/><circle r="7.43" cx="1294.4" cy="1926.3"/><circle r="7.43" cx="1297.2" cy="1926.3"/><circle r="7.43" cx="1300" cy="1926.3"/><circle r="7.43" cx="1302.8" cy="1893.3"/><circle r="7.43" cx="1305.6" cy="1661.6"/><circle r="7.43" cx="1308.4" cy="1918.1"/><circle r="7.43" cx="1311.2" cy="1926.3"/><circle r="7.43" cx="1314" cy="1916.3"/><circle r="7.43" cx="1316.8" cy="1917.2"/><circle r="7.43" cx="1319.6" cy="1924.1"/><circle r="7.43" cx="1322.4" cy="1919.3"/><circle r="7.43" cx="1325.2" cy="1915.6"/><circle r="7.43" cx="1328" cy="1889.3"/><circle r="7.43" cx="1330.8" cy="1916.9"/><circle r="7.43" cx="1333.6" cy="1924.1"/><circle r="7.43" cx="1336.4" cy="1889.3"/><circle r="7.43" cx="1339.2" cy="1917.2"/><circle r="7.43" cx="1342" cy="1909.9"/><circle r="7.43" cx="1344.8" cy="1909.6"/><circle r="7.43" cx="1347.6" cy="1547.4"/><circle r="7.43" cx="1350.4" cy="1918.7"/><circle r="7.43" cx="1353.2" cy="1924.7"/><circle r="7.43" cx="1356" cy="1926.4"/><circle r="7.43" cx="1358.8" cy="1918.2"/><circle r="7.43" cx="1361.6" cy="1890.6"/><circle r="7.43" cx="1364.4" cy="1909.4"/><circle r="7.43" cx="1367.2" cy="1848.6"/><circle r="7.43" cx="1370" cy="1863"/><circle r="7.43" cx="1372.8" cy="1912"/><circle r="7.43" cx="1375.6" cy="1925.3"/><circle r="7.43" cx="1378.4" cy="1921.4"/><circle r="7.43" cx="1381.2" cy="1917.2"/><circle r="7.43" cx="1384" cy="1909.2"/><circle r="7.43" cx="1386.8" cy="1923.2"/><circle r="7.43" cx="1389.6" cy="1915.4"/><circle r="7.43" cx="1392.4" cy="1922.6"/><circle r="7.43" cx="1395.3" cy="1926.1"/><circle r="7.43" cx="1398.1" cy="1890.9"/><circle r="7.43" cx="1400.9" cy="1926.1"/><circle r="7.43" cx="1403.7" cy="1921.4"/><circle r="7.43" cx="1406.5" cy="1921.4"/><circle r="7.43" cx="1409.3" cy="1624.5"/><circle r="7.43" cx="1412.1" cy="1909.3"/><circle r="7.43" cx="1414.9" cy="1921.5"/><circle r="7.43" cx="1417.7" cy="1913.7"/><circle r="7.43" cx="1420.5" cy="1909.5"/><circle r="7.43" cx="1423.3" cy="1848.6"/><circle r="7.43" cx="1426.1" cy="1922.1"/><circle r="7.43" cx="1428.9" cy="1898.1"/><circle r="7.43" cx="1431.7" cy="1802.3"/><circle r="7.43" cx="1434.5" cy="1906.6"/><circle r="7.43" cx="1437.3" cy="1893"/><circle r="7.43" cx="1440.1" cy="1841.2"/><circle r="7.43" cx="1442.9" cy="1696.5"/><circle r="7.43" cx="1445.7" cy="1858.5"/><circle r="7.43" cx="1448.5" cy="1910.1"/><circle r="7.43" cx="1451.3" cy="1817.4"/><circle r="7.43" cx="1454.1" cy="1715.6"/><circle r="7.43" cx="1456.9" cy="1917"/><circle r="7.43" cx="1459.7" cy="1663.9"/><circle r="7.43" cx="1462.5" cy="1848.6"/><circle r="7.43" cx="1465.3" cy="1909.9"/><circle r="7.43" cx="1468.1" cy="1623.7"/><circle r="7.43" cx="1470.9" cy="1883.9"/><circle r="7.43" cx="1473.7" cy="1853.4"/><circle r="7.43" cx="1476.5" cy="1847.6"/><circle r="7.43" cx="1479.3" cy="1854"/><circle r="7.43" cx="1482.1" cy="1673.4"/><circle r="7.43" cx="1484.9" cy="1925.4"/><circle r="7.43" cx="1487.7" cy="1663.8"/><circle r="7.43" cx="1490.5" cy="1623.7"/><circle r="7.43" cx="1493.3" cy="1889.9"/><circle r="7.43" cx="1496.1" cy="1876.1"/><circle r="7.43" cx="1498.9" cy="1920.8"/><circle r="7.43" cx="1501.7" cy="1673.1"/><circle r="7.43" cx="1504.5" cy="1864"/><circle r="7.43" cx="1507.3" cy="1907"/><circle r="7.43" cx="1510.1" cy="1920.6"/><circle r="7.43" cx="1512.9" cy="1908.7"/><circle r="7.43" cx="1515.7" cy="1663.8"/><circle r="7.43" cx="1518.5" cy="1913.5"/><circle r="7.43" cx="1521.3" cy="1672.2"/><circle r="7.43" cx="1524.1" cy="1919.9"/><circle r="7.43" cx="1526.9" cy="1694.5"/><circle r="7.43" cx="1529.7" cy="1915.2"/><circle r="7.43" cx="1532.5" cy="1780.2"/><circle r="7.43" cx="1535.3" cy="1787.6"/><circle r="7.43" cx="1538.1" cy="1886.7"/><circle r="7.43" cx="1140.4" cy="1851.8" fill="#d73a5b"/><circle r="7.43" cx="1260.8" cy="1841.7" fill="#d73a5b"/></g>
<rect class="l" x="958.40" y="1532.00" width="602.00" height="409.60"/>
<path class="l" d="M977.90 1941.60H1538.10M977.90 1941.60v19.80M1117.95 1941.60v19.80M1258.00 1941.60v19.80M1398.05 1941.60v19.80M1538.10 1941.60v19.80"/>
<text class="a" x="977.90" y="2012.88" text-anchor="middle">0</text>
<text class="a" x="1117.95" y="2012.88" text-anchor="middle">50</text>
<text class="a" x="1258.00" y="2012.88" text-anchor="middle">100</text>
<text class="a" x="1398.05" y="2012.88" text-anchor="middle">150</text>
<text class="a" x="1538.10" y="2012.88" text-anchor="middle">200</text>
<text class="a" x="1259.40" y="2092.08" text-anchor="middle">variable</text>
<path class="l" d="M958.40 1865.20V1587.76M958.40 1865.20h-19.80M958.40 1772.72h-19.80M958.40 1680.24h-19.80M958.40 1587.76h-19.80"/>
<text class="a" transform="translate(910.88 1865.20) rotate(-90)" text-anchor="middle">0.0050</text>
<text class="a" transform="translate(910.88 1680.24) rotate(-90)" text-anchor="middle">0.0054</text>
<text class="a" transform="translate(831.68 1736.80) rotate(-90)" text-anchor="middle">PIP</text>
</g>
<g>
<g class="k"><circle r="7.43" cx="1780.7" cy="1619.8"/><circle r="7.43" cx="1783.5" cy="1813.9"/><circle r="7.43" cx="1786.3" cy="1665.3"/><circle r="7.43" cx="1789.1" cy="1619.8"/><circle r="7.43" cx="1791.9" cy="1753.9"/><circle r="7.43" cx="1794.7" cy="1619.8"/><circle r="7.43" cx="1797.5" cy="1619.8"/><circle r="7.43" cx="1800.3" cy="1619.8"/><circle r="7.43" cx="1803.1" cy="1674.3"/><circle r="7.43" cx="1805.9" cy="1826.6"/><circle r="7.43" cx="1808.7" cy="1649.6"/><circle r="7.43" cx="1811.5" cy="1622.6"/><circle r="7.43" cx="1814.3" cy="1709.9"/><circle r="7.43" cx="1817.1" cy="1778.9"/><circle r="7.43" cx="1819.9" cy="1709.9"/><circle r="7.43" cx="1822.7" cy="1773.2"/><circle r="7.43" cx="1825.5" cy="1757.3"/><circle r="7.43" cx="1828.3" cy="1779.2"/><circle r="7.43" cx="1831.1" cy="1619.8"/><circle r="7.43" cx="1833.9" cy="1619.8"/><circle r="7.43" cx="1836.7" cy="1619.8"/><circle r="7.43" cx="1839.5" cy="1795.5"/><circle r="7.43" cx="1842.3" cy="1710.5"/><circle r="7.43" cx="1845.1" cy="1884.6"/><circle r="7.43" cx="1847.9" cy="1619.8"/><circle r="7.43" cx="1850.7" cy="1619"/><circle r="7.43" cx="1853.5" cy="1722.2"/><circle r="7.43" cx="1856.3" cy="1762.9"/><circle r="7.43" cx="1859.1" cy="1757.3"/><circle r="7.43" cx="1861.9" cy="1721.4"/><circle r="7.43" cx="1864.7" cy="1619.8"/><circle r="7.43" cx="1867.5" cy="1709.6"/><circle r="7.43" cx="1870.3" cy="1736.2"/><circle r="7.43" cx="1873.1" cy="1783.9"/><circle r="7.43" cx="1875.9" cy="1861.6"/><circle r="7.43" cx="1878.7" cy="1619.8"/><circle r="7.43" cx="1881.5" cy="1769.6"/><circle r="7.43" cx="1884.3" cy="1619.8"/><circle r="7.43" cx="1887.1" cy="1811.2"/><circle r="7.43" cx="1889.9" cy="1697.5"/><circle r="7.43" cx="1892.7" cy="1697.7"/><circle r="7.43" cx="1895.5" cy="1750.2"/><circle r="7.43" cx="1898.3" cy="1795.1"/><circle r="7.43" cx="1901.1" cy="1812.5"/><circle r="7.43" cx="1903.9" cy="1709.6"/><circle r="7.43" cx="1906.7" cy="1738.4"/><circle r="7.43" cx="1909.5" cy="1619.8"/><circle r="7.43" cx="1912.3" cy="1605.2"/><circle r="7.43" cx="1915.1" cy="1619.8"/><circle r="7.43" cx="1917.9" cy="1769.6"/><circle r="7.43" cx="1920.7" cy="1666.7"/><circle r="7.43" cx="1923.5" cy="1826"/><circle r="7.43" cx="1926.4" cy="1826"/><circle r="7.43" cx="1929.2" cy="1826"/><circle r="7.43" cx="1932" cy="1619.8"/><circle r="7.43" cx="1934.8" cy="1624.1"/><circle r="7.43" cx="1937.6" cy="1737.6"/><circle r="7.43" cx="1940.4" cy="1808.4" fill="#ff0000"/><circle r="7.43" cx="1943.2" cy="1717.3"/><circle r="7.43" cx="1946" cy="1857.8"/><circle r="7.43" cx="1948.8" cy="1844.6"/><circle r="7.43" cx="1951.6" cy="1804.7"/><circle r="7.43" cx="1954.4" cy="1813.7"/><circle r="7.43" cx="1957.2" cy="1832"/><circle r="7.43" cx="1960" cy="1624.8"/><circle r="7.43" cx="1962.8" cy="1709.6"/><circle r="7.43" cx="1965.6" cy="1808.6"/><circle r="7.43" cx="1968.4" cy="1796.3"/><circle r="7.43" cx="1971.2" cy="1796.3"/><circle r="7.43" cx="1974" cy="1809.2"/><circle r="7.43" cx="1976.8" cy="1826"/><circle r="7.43" cx="1979.6" cy="1714.7"/><circle r="7.43" cx="1982.4" cy="1811.4"/><circle r="7.43" cx="1985.2" cy="1753.6"/><circle r="7.43" cx="1988" cy="1815"/><circle r="7.43" cx="1990.8" cy="1674"/><circle r="7.43" cx="1993.6" cy="1687.5"/><circle r="7.43" cx="1996.4" cy="1748.5"/><circle r="7.43" cx="1999.2" cy="1622.9"/><circle r="7.43" cx="2002" cy="1710.8"/><circle r="7.43" cx="2004.8" cy="1557.5"/><circle r="7.43" cx="2007.6" cy="1801.2"/><circle r="7.43" cx="2010.4" cy="1720.9"/><circle r="7.43" cx="2013.2" cy="1699.5"/><circle r="7.43" cx="2016" cy="1803.4"/><circle r="7.43" cx="2018.8" cy="1728.2"/><circle r="7.43" cx="2021.6" cy="1765.8"/><circle r="7.43" cx="2024.4" cy="1591.7"/><circle r="7.43" cx="2027.2" cy="1738.9"/><circle r="7.43" cx="2030" cy="1812.4"/><circle r="7.43" cx="2032.8" cy="1724.3"/><circle r="7.43" cx="2035.6" cy="1721.4"/><circle r="7.43" cx="2038.4" cy="1773.1"/><circle r="7.43" cx="2041.2" cy="1721.2"/><circle r="7.43" cx="2044" cy="1748.6"/><circle r="7.43" cx="2046.8" cy="1773.1"/><circle r="7.43" cx="2049.6" cy="1723.5"/><circle r="7.43" cx="2052.4" cy="1710.8"/><circle r="7.43" cx="2055.2" cy="1749.3"/><circle r="7.43" cx="2058" cy="1901.1"/><circle r="7.43" cx="2060.8" cy="1617.8" fill="#ff0000"/><circle r="7.43" cx="2063.6" cy="1617.8"/><circle r="7.43" cx="2066.4" cy="1812.4"/><circle r="7.43" cx="2069.2" cy="1657.4"/><circle r="7.43" cx="2072" cy="1773.1"/><circle r="7.43" cx="2074.8" cy="1773.1"/><circle r="7.43" cx="2077.6" cy="1890.2"/><circle r="7.43" cx="2080.4" cy="1622.6"/><circle r="7.43" cx="2083.2" cy="1744.2"/><circle r="7.43" cx="2086" cy="1748.6"/><circle r="7.43" cx="2088.8" cy="1771.1"/><circle r="7.43" cx="2091.6" cy="1712.8"/><circle r="7.43" cx="2094.4" cy="1712.8"/><circle r="7.43" cx="2097.2" cy="1712.8"/><circle r="7.43" cx="2100" cy="1712.8"/><circle r="7.43" cx="2102.8" cy="1658"/><circle r="7.43" cx="2105.6" cy="1890.2"/><circle r="7.43" cx="2108.4" cy="1742.6"/><circle r="7.43" cx="2111.2" cy="1727.8"/><circle r="7.43" cx="2114" cy="1746.2"/><circle r="7.43" cx="2116.8" cy="1743.9"/><circle r="7.43" cx="2119.6" cy="1714.4"/><circle r="7.43" cx="2122.4" cy="1739.4"/><circle r="7.43" cx="2125.2" cy="1747.3"/><circle r="7.43" cx="2128" cy="1791.9"/><circle r="7.43" cx="2130.8" cy="1745"/><circle r="7.43" cx="2133.6" cy="1714.1"/><circle r="7.43" cx="2136.4" cy="1791.9"/><circle r="7.43" cx="2139.2" cy="1749.5"/><circle r="7.43" cx="2142" cy="1756.3"/><circle r="7.43" cx="2144.8" cy="1756.8"/><circle r="7.43" cx="2147.6" cy="1926.4"/><circle r="7.43" cx="2150.4" cy="1741.3"/><circle r="7.43" cx="2153.2" cy="1709.7"/><circle r="7.43" cx="2156" cy="1715.5"/><circle r="7.43" cx="2158.8" cy="1683"/><circle r="7.43" cx="2161.6" cy="1778.7"/><circle r="7.43" cx="2164.4" cy="1756.6"/><circle r="7.43" cx="2167.2" cy="1812.4"/><circle r="7.43" cx="2170" cy="1627.1"/><circle r="7.43" cx="2172.8" cy="1747.3"/><circle r="7.43" cx="2175.6" cy="1712.5"/><circle r="7.43" cx="2178.4" cy="1690.5"/><circle r="7.43" cx="2181.2" cy="1745"/><circle r="7.43" cx="2184" cy="1756"/><circle r="7.43" cx="2186.8" cy="1710.2"/><circle r="7.43" cx="2189.6" cy="1742.6"/><circle r="7.43" cx="2192.4" cy="1693.1"/><circle r="7.43" cx="2195.3" cy="1719"/><circle r="7.43" cx="2198.1" cy="1773.7"/><circle r="7.43" cx="2200.9" cy="1719"/><circle r="7.43" cx="2203.7" cy="1690.3"/><circle r="7.43" cx="2206.5" cy="1690.5"/><circle r="7.43" cx="2209.3" cy="1901.7"/><circle r="7.43" cx="2212.1" cy="1756.5"/><circle r="7.43" cx="2214.9" cy="1691.1"/><circle r="7.43" cx="2217.7" cy="1689.8"/><circle r="7.43" cx="2220.5" cy="1684.6"/><circle r="7.43" cx="2223.3" cy="1812.4"/><circle r="7.43" cx="2226.1" cy="1736.6"/><circle r="7.43" cx="2228.9" cy="1770.9"/><circle r="7.43" cx="2231.7" cy="1854.2"/><circle r="7.43" cx="2234.5" cy="1672.9"/><circle r="7.43" cx="2237.3" cy="1657.6"/><circle r="7.43" cx="2240.1" cy="1617.8"/><circle r="7.43" cx="2242.9" cy="1564.4"/><circle r="7.43" cx="2245.7" cy="1641.7"/><circle r="7.43" cx="2248.5" cy="1677.4"/><circle r="7.43" cx="2251.3" cy="1844.2"/><circle r="7.43" cx="2254.1" cy="1558.2"/><circle r="7.43" cx="2256.9" cy="1761.3"/><circle r="7.43" cx="2259.7" cy="1889.6"/><circle r="7.43" cx="2262.5" cy="1809.4"/><circle r="7.43" cx="2265.3" cy="1677.1"/><circle r="7.43" cx="2268.1" cy="1906.6"/><circle r="7.43" cx="2270.9" cy="1787.4"/><circle r="7.43" cx="2273.7" cy="1809.6"/><circle r="7.43" cx="2276.5" cy="1809.9"/><circle r="7.43" cx="2279.3" cy="1809.3"/><circle r="7.43" cx="2282.1" cy="1547"/><circle r="7.43" cx="2284.9" cy="1737.5"/><circle r="7.43" cx="2287.7" cy="1889.6"/><circle r="7.43" cx="2290.5" cy="1906.6"/><circle r="7.43" cx="2293.3" cy="1786.6"/><circle r="7.43" cx="2296.1" cy="1642.3"/><circle r="7.43" cx="2298.9" cy="1699.5"/><circle r="7.43" cx="2301.7" cy="1547"/><circle r="7.43" cx="2304.5" cy="1636.6"/><circle r="7.43" cx="2307.3" cy="1776.5"/><circle r="7.43" cx="2310.1" cy="1698.4"/><circle r="7.43" cx="2312.9" cy="1675.2"/><circle r="7.43" cx="2315.7" cy="1890.2"/><circle r="7.43" cx="2318.5" cy="1683.5"/><circle r="7.43" cx="2321.3" cy="1886.7"/><circle r="7.43" cx="2324.1" cy="1686.8"/><circle r="7.43" cx="2326.9" cy="1554.7"/><circle r="7.43" cx="2329.7" cy="1753.5"/><circle r="7.43" cx="2332.5" cy="1846.7"/><circle r="7.43" cx="2335.3" cy="1843.3"/><circle r="7.43" cx="2338.1" cy="1784.6"/></g>
<rect class="l" x="1758.40" y="1532.00" width="602.00" height="409.60"/>
<path class="l" d="M1777.90 1941.60H2338.10M1777.90 1941.60v19.80M1917.95 1941.60v19.80M2058.00 1941.60v19.80M2198.05 1941.60v19.80M2338.10 1941.60v19.80"/>
<text class="a" x="1777.90" y="2012.88" text-anchor="middle">0</text>
<text class="a" x="1917.95" y="2012.88" text-anchor="middle">50</text>
<text class="a" x="2058.00" y="2012.88" text-anchor="middle">100</text>
<text class="a" x="2198.05" y="2012.88" text-anchor="middle">150</text>
<text class="a" x="2338.10" y="2012.88" text-anchor="middle">200</text>
<text class="a" x="2059.40" y="2092.08" text-anchor="middle">Index</text>
<path class="l" d="M1758.40 1895.10V1550.10M1758.40 1895.10h-19.80M1758.40 1808.85h-19.80M1758.40 1722.60h-19.80M1758.40 1636.35h-19.80M1758.40 1550.10h-19.80"/>
<text class="a" transform="translate(1710.88 1895.10) rotate(-90)" text-anchor="middle">-0.02</text>
<text class="a" transform="translate(1710.88 1722.60) rotate(-90)" text-anchor="middle">0.00</text>
<text class="a" transform="translate(1710.88 1550.10) rotate(-90)" text-anchor="middle">0.02</text>
<text class="a" transform="translate(1631.68 1736.80) rotate(-90)" text-anchor="middle">residual</text>
</g>
</svg>
</body></html>
